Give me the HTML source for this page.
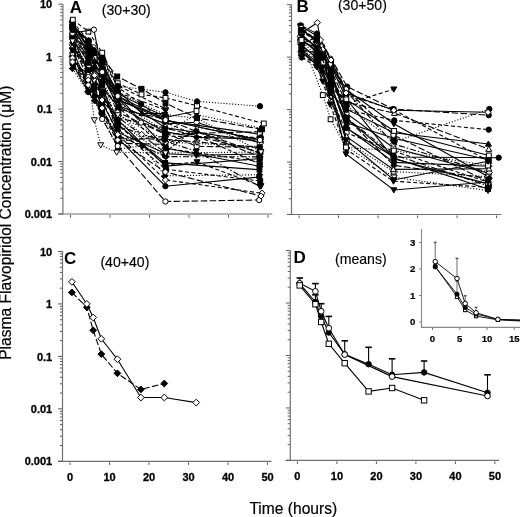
<!DOCTYPE html><html><head><meta charset="utf-8"><style>html,body{margin:0;padding:0;background:#fff;width:520px;height:517px;overflow:hidden}svg{display:block;filter:grayscale(1) blur(0.35px)}</style></head><body><svg width="520" height="517" viewBox="0 0 520 517">
<style>text{font-family:"Liberation Sans",sans-serif;fill:#000}.tl{font-weight:bold;font-size:11px;stroke:#000;stroke-width:0.3px}.pl{font-weight:bold;font-size:17px}.cap{font-size:14.1px;stroke:#000;stroke-width:0.15px}.ttl{stroke:#000;stroke-width:0.2px}.il{font-weight:bold;font-size:9.6px;stroke:#000;stroke-width:0.2px}</style>
<rect width="520" height="517" fill="#fff"/>
<line x1="62.9" y1="3.70" x2="62.9" y2="214.60" stroke="#707070" stroke-width="1.2"/>
<line x1="58.4" y1="214.0" x2="272.3" y2="214.0" stroke="#707070" stroke-width="1.2"/>
<line x1="58.40" y1="214.00" x2="62.4" y2="214.00" stroke="#5a5a5a" stroke-width="1"/>
<line x1="60.30" y1="198.21" x2="62.4" y2="198.21" stroke="#5a5a5a" stroke-width="1"/>
<line x1="60.30" y1="188.97" x2="62.4" y2="188.97" stroke="#5a5a5a" stroke-width="1"/>
<line x1="60.30" y1="182.42" x2="62.4" y2="182.42" stroke="#5a5a5a" stroke-width="1"/>
<line x1="60.30" y1="177.34" x2="62.4" y2="177.34" stroke="#5a5a5a" stroke-width="1"/>
<line x1="60.30" y1="173.19" x2="62.4" y2="173.19" stroke="#5a5a5a" stroke-width="1"/>
<line x1="60.30" y1="169.67" x2="62.4" y2="169.67" stroke="#5a5a5a" stroke-width="1"/>
<line x1="60.30" y1="166.63" x2="62.4" y2="166.63" stroke="#5a5a5a" stroke-width="1"/>
<line x1="60.30" y1="163.95" x2="62.4" y2="163.95" stroke="#5a5a5a" stroke-width="1"/>
<line x1="58.40" y1="161.55" x2="62.4" y2="161.55" stroke="#5a5a5a" stroke-width="1"/>
<line x1="60.30" y1="145.76" x2="62.4" y2="145.76" stroke="#5a5a5a" stroke-width="1"/>
<line x1="60.30" y1="136.52" x2="62.4" y2="136.52" stroke="#5a5a5a" stroke-width="1"/>
<line x1="60.30" y1="129.97" x2="62.4" y2="129.97" stroke="#5a5a5a" stroke-width="1"/>
<line x1="60.30" y1="124.89" x2="62.4" y2="124.89" stroke="#5a5a5a" stroke-width="1"/>
<line x1="60.30" y1="120.74" x2="62.4" y2="120.74" stroke="#5a5a5a" stroke-width="1"/>
<line x1="60.30" y1="117.22" x2="62.4" y2="117.22" stroke="#5a5a5a" stroke-width="1"/>
<line x1="60.30" y1="114.18" x2="62.4" y2="114.18" stroke="#5a5a5a" stroke-width="1"/>
<line x1="60.30" y1="111.50" x2="62.4" y2="111.50" stroke="#5a5a5a" stroke-width="1"/>
<line x1="58.40" y1="109.10" x2="62.4" y2="109.10" stroke="#5a5a5a" stroke-width="1"/>
<line x1="60.30" y1="93.31" x2="62.4" y2="93.31" stroke="#5a5a5a" stroke-width="1"/>
<line x1="60.30" y1="84.07" x2="62.4" y2="84.07" stroke="#5a5a5a" stroke-width="1"/>
<line x1="60.30" y1="77.52" x2="62.4" y2="77.52" stroke="#5a5a5a" stroke-width="1"/>
<line x1="60.30" y1="72.44" x2="62.4" y2="72.44" stroke="#5a5a5a" stroke-width="1"/>
<line x1="60.30" y1="68.29" x2="62.4" y2="68.29" stroke="#5a5a5a" stroke-width="1"/>
<line x1="60.30" y1="64.77" x2="62.4" y2="64.77" stroke="#5a5a5a" stroke-width="1"/>
<line x1="60.30" y1="61.73" x2="62.4" y2="61.73" stroke="#5a5a5a" stroke-width="1"/>
<line x1="60.30" y1="59.05" x2="62.4" y2="59.05" stroke="#5a5a5a" stroke-width="1"/>
<line x1="58.40" y1="56.65" x2="62.4" y2="56.65" stroke="#5a5a5a" stroke-width="1"/>
<line x1="60.30" y1="40.86" x2="62.4" y2="40.86" stroke="#5a5a5a" stroke-width="1"/>
<line x1="60.30" y1="31.62" x2="62.4" y2="31.62" stroke="#5a5a5a" stroke-width="1"/>
<line x1="60.30" y1="25.07" x2="62.4" y2="25.07" stroke="#5a5a5a" stroke-width="1"/>
<line x1="60.30" y1="19.99" x2="62.4" y2="19.99" stroke="#5a5a5a" stroke-width="1"/>
<line x1="60.30" y1="15.84" x2="62.4" y2="15.84" stroke="#5a5a5a" stroke-width="1"/>
<line x1="60.30" y1="12.32" x2="62.4" y2="12.32" stroke="#5a5a5a" stroke-width="1"/>
<line x1="60.30" y1="9.28" x2="62.4" y2="9.28" stroke="#5a5a5a" stroke-width="1"/>
<line x1="60.30" y1="6.60" x2="62.4" y2="6.60" stroke="#5a5a5a" stroke-width="1"/>
<line x1="58.40" y1="4.20" x2="62.4" y2="4.20" stroke="#5a5a5a" stroke-width="1"/>
<line x1="70.50" y1="215.0" x2="70.50" y2="217.6" stroke="#5a5a5a" stroke-width="1"/>
<line x1="110.00" y1="215.0" x2="110.00" y2="217.6" stroke="#5a5a5a" stroke-width="1"/>
<line x1="149.50" y1="215.0" x2="149.50" y2="217.6" stroke="#5a5a5a" stroke-width="1"/>
<line x1="189.00" y1="215.0" x2="189.00" y2="217.6" stroke="#5a5a5a" stroke-width="1"/>
<line x1="228.50" y1="215.0" x2="228.50" y2="217.6" stroke="#5a5a5a" stroke-width="1"/>
<line x1="268.00" y1="215.0" x2="268.00" y2="217.6" stroke="#5a5a5a" stroke-width="1"/>
<text x="52.2" y="218.10" class="tl" text-anchor="end">0.001</text>
<text x="52.2" y="165.65" class="tl" text-anchor="end">0.01</text>
<text x="52.2" y="113.20" class="tl" text-anchor="end">0.1</text>
<text x="52.2" y="60.75" class="tl" text-anchor="end">1</text>
<text x="52.2" y="8.30" class="tl" text-anchor="end">10</text>
<line x1="291.5" y1="4.20" x2="291.5" y2="215.10" stroke="#707070" stroke-width="1.2"/>
<line x1="287.0" y1="214.5" x2="501.3" y2="214.5" stroke="#707070" stroke-width="1.2"/>
<line x1="287.00" y1="214.50" x2="291.0" y2="214.50" stroke="#5a5a5a" stroke-width="1"/>
<line x1="288.90" y1="198.71" x2="291.0" y2="198.71" stroke="#5a5a5a" stroke-width="1"/>
<line x1="288.90" y1="189.47" x2="291.0" y2="189.47" stroke="#5a5a5a" stroke-width="1"/>
<line x1="288.90" y1="182.92" x2="291.0" y2="182.92" stroke="#5a5a5a" stroke-width="1"/>
<line x1="288.90" y1="177.84" x2="291.0" y2="177.84" stroke="#5a5a5a" stroke-width="1"/>
<line x1="288.90" y1="173.69" x2="291.0" y2="173.69" stroke="#5a5a5a" stroke-width="1"/>
<line x1="288.90" y1="170.17" x2="291.0" y2="170.17" stroke="#5a5a5a" stroke-width="1"/>
<line x1="288.90" y1="167.13" x2="291.0" y2="167.13" stroke="#5a5a5a" stroke-width="1"/>
<line x1="288.90" y1="164.45" x2="291.0" y2="164.45" stroke="#5a5a5a" stroke-width="1"/>
<line x1="287.00" y1="162.05" x2="291.0" y2="162.05" stroke="#5a5a5a" stroke-width="1"/>
<line x1="288.90" y1="146.26" x2="291.0" y2="146.26" stroke="#5a5a5a" stroke-width="1"/>
<line x1="288.90" y1="137.02" x2="291.0" y2="137.02" stroke="#5a5a5a" stroke-width="1"/>
<line x1="288.90" y1="130.47" x2="291.0" y2="130.47" stroke="#5a5a5a" stroke-width="1"/>
<line x1="288.90" y1="125.39" x2="291.0" y2="125.39" stroke="#5a5a5a" stroke-width="1"/>
<line x1="288.90" y1="121.24" x2="291.0" y2="121.24" stroke="#5a5a5a" stroke-width="1"/>
<line x1="288.90" y1="117.72" x2="291.0" y2="117.72" stroke="#5a5a5a" stroke-width="1"/>
<line x1="288.90" y1="114.68" x2="291.0" y2="114.68" stroke="#5a5a5a" stroke-width="1"/>
<line x1="288.90" y1="112.00" x2="291.0" y2="112.00" stroke="#5a5a5a" stroke-width="1"/>
<line x1="287.00" y1="109.60" x2="291.0" y2="109.60" stroke="#5a5a5a" stroke-width="1"/>
<line x1="288.90" y1="93.81" x2="291.0" y2="93.81" stroke="#5a5a5a" stroke-width="1"/>
<line x1="288.90" y1="84.57" x2="291.0" y2="84.57" stroke="#5a5a5a" stroke-width="1"/>
<line x1="288.90" y1="78.02" x2="291.0" y2="78.02" stroke="#5a5a5a" stroke-width="1"/>
<line x1="288.90" y1="72.94" x2="291.0" y2="72.94" stroke="#5a5a5a" stroke-width="1"/>
<line x1="288.90" y1="68.79" x2="291.0" y2="68.79" stroke="#5a5a5a" stroke-width="1"/>
<line x1="288.90" y1="65.27" x2="291.0" y2="65.27" stroke="#5a5a5a" stroke-width="1"/>
<line x1="288.90" y1="62.23" x2="291.0" y2="62.23" stroke="#5a5a5a" stroke-width="1"/>
<line x1="288.90" y1="59.55" x2="291.0" y2="59.55" stroke="#5a5a5a" stroke-width="1"/>
<line x1="287.00" y1="57.15" x2="291.0" y2="57.15" stroke="#5a5a5a" stroke-width="1"/>
<line x1="288.90" y1="41.36" x2="291.0" y2="41.36" stroke="#5a5a5a" stroke-width="1"/>
<line x1="288.90" y1="32.12" x2="291.0" y2="32.12" stroke="#5a5a5a" stroke-width="1"/>
<line x1="288.90" y1="25.57" x2="291.0" y2="25.57" stroke="#5a5a5a" stroke-width="1"/>
<line x1="288.90" y1="20.49" x2="291.0" y2="20.49" stroke="#5a5a5a" stroke-width="1"/>
<line x1="288.90" y1="16.34" x2="291.0" y2="16.34" stroke="#5a5a5a" stroke-width="1"/>
<line x1="288.90" y1="12.82" x2="291.0" y2="12.82" stroke="#5a5a5a" stroke-width="1"/>
<line x1="288.90" y1="9.78" x2="291.0" y2="9.78" stroke="#5a5a5a" stroke-width="1"/>
<line x1="288.90" y1="7.10" x2="291.0" y2="7.10" stroke="#5a5a5a" stroke-width="1"/>
<line x1="287.00" y1="4.70" x2="291.0" y2="4.70" stroke="#5a5a5a" stroke-width="1"/>
<line x1="299.10" y1="215.5" x2="299.10" y2="218.1" stroke="#5a5a5a" stroke-width="1"/>
<line x1="338.60" y1="215.5" x2="338.60" y2="218.1" stroke="#5a5a5a" stroke-width="1"/>
<line x1="378.10" y1="215.5" x2="378.10" y2="218.1" stroke="#5a5a5a" stroke-width="1"/>
<line x1="417.60" y1="215.5" x2="417.60" y2="218.1" stroke="#5a5a5a" stroke-width="1"/>
<line x1="457.10" y1="215.5" x2="457.10" y2="218.1" stroke="#5a5a5a" stroke-width="1"/>
<line x1="496.60" y1="215.5" x2="496.60" y2="218.1" stroke="#5a5a5a" stroke-width="1"/>
<line x1="62.5" y1="251.00" x2="62.5" y2="461.90" stroke="#707070" stroke-width="1.2"/>
<line x1="58.0" y1="461.3" x2="271.5" y2="461.3" stroke="#707070" stroke-width="1.2"/>
<line x1="58.00" y1="461.30" x2="62.0" y2="461.30" stroke="#5a5a5a" stroke-width="1"/>
<line x1="59.90" y1="445.51" x2="62.0" y2="445.51" stroke="#5a5a5a" stroke-width="1"/>
<line x1="59.90" y1="436.27" x2="62.0" y2="436.27" stroke="#5a5a5a" stroke-width="1"/>
<line x1="59.90" y1="429.72" x2="62.0" y2="429.72" stroke="#5a5a5a" stroke-width="1"/>
<line x1="59.90" y1="424.64" x2="62.0" y2="424.64" stroke="#5a5a5a" stroke-width="1"/>
<line x1="59.90" y1="420.49" x2="62.0" y2="420.49" stroke="#5a5a5a" stroke-width="1"/>
<line x1="59.90" y1="416.97" x2="62.0" y2="416.97" stroke="#5a5a5a" stroke-width="1"/>
<line x1="59.90" y1="413.93" x2="62.0" y2="413.93" stroke="#5a5a5a" stroke-width="1"/>
<line x1="59.90" y1="411.25" x2="62.0" y2="411.25" stroke="#5a5a5a" stroke-width="1"/>
<line x1="58.00" y1="408.85" x2="62.0" y2="408.85" stroke="#5a5a5a" stroke-width="1"/>
<line x1="59.90" y1="393.06" x2="62.0" y2="393.06" stroke="#5a5a5a" stroke-width="1"/>
<line x1="59.90" y1="383.82" x2="62.0" y2="383.82" stroke="#5a5a5a" stroke-width="1"/>
<line x1="59.90" y1="377.27" x2="62.0" y2="377.27" stroke="#5a5a5a" stroke-width="1"/>
<line x1="59.90" y1="372.19" x2="62.0" y2="372.19" stroke="#5a5a5a" stroke-width="1"/>
<line x1="59.90" y1="368.04" x2="62.0" y2="368.04" stroke="#5a5a5a" stroke-width="1"/>
<line x1="59.90" y1="364.52" x2="62.0" y2="364.52" stroke="#5a5a5a" stroke-width="1"/>
<line x1="59.90" y1="361.48" x2="62.0" y2="361.48" stroke="#5a5a5a" stroke-width="1"/>
<line x1="59.90" y1="358.80" x2="62.0" y2="358.80" stroke="#5a5a5a" stroke-width="1"/>
<line x1="58.00" y1="356.40" x2="62.0" y2="356.40" stroke="#5a5a5a" stroke-width="1"/>
<line x1="59.90" y1="340.61" x2="62.0" y2="340.61" stroke="#5a5a5a" stroke-width="1"/>
<line x1="59.90" y1="331.37" x2="62.0" y2="331.37" stroke="#5a5a5a" stroke-width="1"/>
<line x1="59.90" y1="324.82" x2="62.0" y2="324.82" stroke="#5a5a5a" stroke-width="1"/>
<line x1="59.90" y1="319.74" x2="62.0" y2="319.74" stroke="#5a5a5a" stroke-width="1"/>
<line x1="59.90" y1="315.59" x2="62.0" y2="315.59" stroke="#5a5a5a" stroke-width="1"/>
<line x1="59.90" y1="312.07" x2="62.0" y2="312.07" stroke="#5a5a5a" stroke-width="1"/>
<line x1="59.90" y1="309.03" x2="62.0" y2="309.03" stroke="#5a5a5a" stroke-width="1"/>
<line x1="59.90" y1="306.35" x2="62.0" y2="306.35" stroke="#5a5a5a" stroke-width="1"/>
<line x1="58.00" y1="303.95" x2="62.0" y2="303.95" stroke="#5a5a5a" stroke-width="1"/>
<line x1="59.90" y1="288.16" x2="62.0" y2="288.16" stroke="#5a5a5a" stroke-width="1"/>
<line x1="59.90" y1="278.92" x2="62.0" y2="278.92" stroke="#5a5a5a" stroke-width="1"/>
<line x1="59.90" y1="272.37" x2="62.0" y2="272.37" stroke="#5a5a5a" stroke-width="1"/>
<line x1="59.90" y1="267.29" x2="62.0" y2="267.29" stroke="#5a5a5a" stroke-width="1"/>
<line x1="59.90" y1="263.14" x2="62.0" y2="263.14" stroke="#5a5a5a" stroke-width="1"/>
<line x1="59.90" y1="259.62" x2="62.0" y2="259.62" stroke="#5a5a5a" stroke-width="1"/>
<line x1="59.90" y1="256.58" x2="62.0" y2="256.58" stroke="#5a5a5a" stroke-width="1"/>
<line x1="59.90" y1="253.90" x2="62.0" y2="253.90" stroke="#5a5a5a" stroke-width="1"/>
<line x1="58.00" y1="251.50" x2="62.0" y2="251.50" stroke="#5a5a5a" stroke-width="1"/>
<line x1="70.00" y1="462.3" x2="70.00" y2="464.90000000000003" stroke="#5a5a5a" stroke-width="1"/>
<text x="70.00" y="480.90" class="tl" text-anchor="middle">0</text>
<line x1="109.50" y1="462.3" x2="109.50" y2="464.90000000000003" stroke="#5a5a5a" stroke-width="1"/>
<text x="109.50" y="480.90" class="tl" text-anchor="middle">10</text>
<line x1="149.00" y1="462.3" x2="149.00" y2="464.90000000000003" stroke="#5a5a5a" stroke-width="1"/>
<text x="149.00" y="480.90" class="tl" text-anchor="middle">20</text>
<line x1="188.50" y1="462.3" x2="188.50" y2="464.90000000000003" stroke="#5a5a5a" stroke-width="1"/>
<text x="188.50" y="480.90" class="tl" text-anchor="middle">30</text>
<line x1="228.00" y1="462.3" x2="228.00" y2="464.90000000000003" stroke="#5a5a5a" stroke-width="1"/>
<text x="228.00" y="480.90" class="tl" text-anchor="middle">40</text>
<line x1="267.50" y1="462.3" x2="267.50" y2="464.90000000000003" stroke="#5a5a5a" stroke-width="1"/>
<text x="267.50" y="480.90" class="tl" text-anchor="middle">50</text>
<text x="52.2" y="465.40" class="tl" text-anchor="end">0.001</text>
<text x="52.2" y="412.95" class="tl" text-anchor="end">0.01</text>
<text x="52.2" y="360.50" class="tl" text-anchor="end">0.1</text>
<text x="52.2" y="308.05" class="tl" text-anchor="end">1</text>
<text x="52.2" y="255.60" class="tl" text-anchor="end">10</text>
<line x1="290.3" y1="250.10" x2="290.3" y2="461.00" stroke="#707070" stroke-width="1.2"/>
<line x1="285.8" y1="460.4" x2="499.2" y2="460.4" stroke="#707070" stroke-width="1.2"/>
<line x1="285.80" y1="460.40" x2="289.8" y2="460.40" stroke="#5a5a5a" stroke-width="1"/>
<line x1="287.70" y1="444.61" x2="289.8" y2="444.61" stroke="#5a5a5a" stroke-width="1"/>
<line x1="287.70" y1="435.37" x2="289.8" y2="435.37" stroke="#5a5a5a" stroke-width="1"/>
<line x1="287.70" y1="428.82" x2="289.8" y2="428.82" stroke="#5a5a5a" stroke-width="1"/>
<line x1="287.70" y1="423.74" x2="289.8" y2="423.74" stroke="#5a5a5a" stroke-width="1"/>
<line x1="287.70" y1="419.59" x2="289.8" y2="419.59" stroke="#5a5a5a" stroke-width="1"/>
<line x1="287.70" y1="416.07" x2="289.8" y2="416.07" stroke="#5a5a5a" stroke-width="1"/>
<line x1="287.70" y1="413.03" x2="289.8" y2="413.03" stroke="#5a5a5a" stroke-width="1"/>
<line x1="287.70" y1="410.35" x2="289.8" y2="410.35" stroke="#5a5a5a" stroke-width="1"/>
<line x1="285.80" y1="407.95" x2="289.8" y2="407.95" stroke="#5a5a5a" stroke-width="1"/>
<line x1="287.70" y1="392.16" x2="289.8" y2="392.16" stroke="#5a5a5a" stroke-width="1"/>
<line x1="287.70" y1="382.92" x2="289.8" y2="382.92" stroke="#5a5a5a" stroke-width="1"/>
<line x1="287.70" y1="376.37" x2="289.8" y2="376.37" stroke="#5a5a5a" stroke-width="1"/>
<line x1="287.70" y1="371.29" x2="289.8" y2="371.29" stroke="#5a5a5a" stroke-width="1"/>
<line x1="287.70" y1="367.14" x2="289.8" y2="367.14" stroke="#5a5a5a" stroke-width="1"/>
<line x1="287.70" y1="363.62" x2="289.8" y2="363.62" stroke="#5a5a5a" stroke-width="1"/>
<line x1="287.70" y1="360.58" x2="289.8" y2="360.58" stroke="#5a5a5a" stroke-width="1"/>
<line x1="287.70" y1="357.90" x2="289.8" y2="357.90" stroke="#5a5a5a" stroke-width="1"/>
<line x1="285.80" y1="355.50" x2="289.8" y2="355.50" stroke="#5a5a5a" stroke-width="1"/>
<line x1="287.70" y1="339.71" x2="289.8" y2="339.71" stroke="#5a5a5a" stroke-width="1"/>
<line x1="287.70" y1="330.47" x2="289.8" y2="330.47" stroke="#5a5a5a" stroke-width="1"/>
<line x1="287.70" y1="323.92" x2="289.8" y2="323.92" stroke="#5a5a5a" stroke-width="1"/>
<line x1="287.70" y1="318.84" x2="289.8" y2="318.84" stroke="#5a5a5a" stroke-width="1"/>
<line x1="287.70" y1="314.69" x2="289.8" y2="314.69" stroke="#5a5a5a" stroke-width="1"/>
<line x1="287.70" y1="311.17" x2="289.8" y2="311.17" stroke="#5a5a5a" stroke-width="1"/>
<line x1="287.70" y1="308.13" x2="289.8" y2="308.13" stroke="#5a5a5a" stroke-width="1"/>
<line x1="287.70" y1="305.45" x2="289.8" y2="305.45" stroke="#5a5a5a" stroke-width="1"/>
<line x1="285.80" y1="303.05" x2="289.8" y2="303.05" stroke="#5a5a5a" stroke-width="1"/>
<line x1="287.70" y1="287.26" x2="289.8" y2="287.26" stroke="#5a5a5a" stroke-width="1"/>
<line x1="287.70" y1="278.02" x2="289.8" y2="278.02" stroke="#5a5a5a" stroke-width="1"/>
<line x1="287.70" y1="271.47" x2="289.8" y2="271.47" stroke="#5a5a5a" stroke-width="1"/>
<line x1="287.70" y1="266.39" x2="289.8" y2="266.39" stroke="#5a5a5a" stroke-width="1"/>
<line x1="287.70" y1="262.24" x2="289.8" y2="262.24" stroke="#5a5a5a" stroke-width="1"/>
<line x1="287.70" y1="258.72" x2="289.8" y2="258.72" stroke="#5a5a5a" stroke-width="1"/>
<line x1="287.70" y1="255.68" x2="289.8" y2="255.68" stroke="#5a5a5a" stroke-width="1"/>
<line x1="287.70" y1="253.00" x2="289.8" y2="253.00" stroke="#5a5a5a" stroke-width="1"/>
<line x1="285.80" y1="250.60" x2="289.8" y2="250.60" stroke="#5a5a5a" stroke-width="1"/>
<line x1="297.40" y1="461.4" x2="297.40" y2="464.0" stroke="#5a5a5a" stroke-width="1"/>
<text x="297.40" y="480.00" class="tl" text-anchor="middle">0</text>
<line x1="336.90" y1="461.4" x2="336.90" y2="464.0" stroke="#5a5a5a" stroke-width="1"/>
<text x="336.90" y="480.00" class="tl" text-anchor="middle">10</text>
<line x1="376.40" y1="461.4" x2="376.40" y2="464.0" stroke="#5a5a5a" stroke-width="1"/>
<text x="376.40" y="480.00" class="tl" text-anchor="middle">20</text>
<line x1="415.90" y1="461.4" x2="415.90" y2="464.0" stroke="#5a5a5a" stroke-width="1"/>
<text x="415.90" y="480.00" class="tl" text-anchor="middle">30</text>
<line x1="455.40" y1="461.4" x2="455.40" y2="464.0" stroke="#5a5a5a" stroke-width="1"/>
<text x="455.40" y="480.00" class="tl" text-anchor="middle">40</text>
<line x1="494.90" y1="461.4" x2="494.90" y2="464.0" stroke="#5a5a5a" stroke-width="1"/>
<text x="494.90" y="480.00" class="tl" text-anchor="middle">50</text>
<text x="69.7" y="12.5" class="pl">A</text>
<text x="296.6" y="12.4" class="pl">B</text>
<text x="64" y="264" class="pl">C</text>
<text x="293.4" y="262.9" class="pl">D</text>
<text x="101.8" y="14.8" class="cap">(30+30)</text>
<text x="337.9" y="10.4" class="cap">(30+50)</text>
<text x="100.4" y="266.7" class="cap">(40+40)</text>
<text x="335" y="263.7" class="cap">(means)</text>
<text x="0" y="0" transform="translate(11.4,359.8) rotate(-90)" class="ttl" style="font-size:15.6px">Plasma Flavopiridol Concentration (μM)</text>
<text x="249.4" y="513.6" class="ttl" style="font-size:15.6px">Time (hours)</text>
<polyline points="71.90,292.40 86.80,307.30 93.20,330.30 101.30,354.10 117.40,373.30 140.90,389.40 164.30,383.50" fill="none" stroke="#000" stroke-width="1.1" stroke-dasharray="6.6 2.4"/>
<polygon points="71.90,289.01 75.29,292.40 71.90,295.79 68.51,292.40" fill="#000" stroke="#000" stroke-width="1"/>
<polygon points="86.80,303.91 90.19,307.30 86.80,310.69 83.41,307.30" fill="#000" stroke="#000" stroke-width="1"/>
<polygon points="93.20,326.91 96.59,330.30 93.20,333.69 89.81,330.30" fill="#000" stroke="#000" stroke-width="1"/>
<polygon points="101.30,350.71 104.69,354.10 101.30,357.49 97.91,354.10" fill="#000" stroke="#000" stroke-width="1"/>
<polygon points="117.40,369.91 120.79,373.30 117.40,376.69 114.01,373.30" fill="#000" stroke="#000" stroke-width="1"/>
<polygon points="140.90,386.01 144.29,389.40 140.90,392.79 137.51,389.40" fill="#000" stroke="#000" stroke-width="1"/>
<polygon points="164.30,380.11 167.69,383.50 164.30,386.89 160.91,383.50" fill="#000" stroke="#000" stroke-width="1"/>
<polyline points="71.90,281.80 86.80,303.90 93.20,317.50 101.30,338.80 117.40,359.20 140.90,397.50 164.30,397.50 196.20,402.60" fill="none" stroke="#000" stroke-width="1.1" />
<polygon points="71.90,278.41 75.29,281.80 71.90,285.19 68.51,281.80" fill="#fff" stroke="#000" stroke-width="1"/>
<polygon points="86.80,300.51 90.19,303.90 86.80,307.29 83.41,303.90" fill="#fff" stroke="#000" stroke-width="1"/>
<polygon points="93.20,314.11 96.59,317.50 93.20,320.89 89.81,317.50" fill="#fff" stroke="#000" stroke-width="1"/>
<polygon points="101.30,335.41 104.69,338.80 101.30,342.19 97.91,338.80" fill="#fff" stroke="#000" stroke-width="1"/>
<polygon points="117.40,355.81 120.79,359.20 117.40,362.59 114.01,359.20" fill="#fff" stroke="#000" stroke-width="1"/>
<polygon points="140.90,394.11 144.29,397.50 140.90,400.89 137.51,397.50" fill="#fff" stroke="#000" stroke-width="1"/>
<polygon points="164.30,394.11 167.69,397.50 164.30,400.89 160.91,397.50" fill="#fff" stroke="#000" stroke-width="1"/>
<polygon points="196.20,399.21 199.59,402.60 196.20,405.99 192.81,402.60" fill="#fff" stroke="#000" stroke-width="1"/>
<line x1="299.80" y1="278.00" x2="299.80" y2="284.50" stroke="#000" stroke-width="1.1"/>
<line x1="296.55" y1="278.00" x2="303.05" y2="278.00" stroke="#000" stroke-width="1.6"/>
<line x1="315.40" y1="283.60" x2="315.40" y2="291.30" stroke="#000" stroke-width="1.1"/>
<line x1="312.15" y1="283.60" x2="318.65" y2="283.60" stroke="#000" stroke-width="1.6"/>
<line x1="315.40" y1="294.80" x2="315.40" y2="302.00" stroke="#000" stroke-width="1.1"/>
<line x1="312.15" y1="294.80" x2="318.65" y2="294.80" stroke="#000" stroke-width="1.6"/>
<line x1="321.20" y1="303.70" x2="321.20" y2="311.00" stroke="#000" stroke-width="1.1"/>
<line x1="317.95" y1="303.70" x2="324.45" y2="303.70" stroke="#000" stroke-width="1.6"/>
<line x1="328.80" y1="316.40" x2="328.80" y2="328.00" stroke="#000" stroke-width="1.1"/>
<line x1="325.55" y1="316.40" x2="332.05" y2="316.40" stroke="#000" stroke-width="1.6"/>
<line x1="344.70" y1="340.80" x2="344.70" y2="354.50" stroke="#000" stroke-width="1.1"/>
<line x1="341.45" y1="340.80" x2="347.95" y2="340.80" stroke="#000" stroke-width="1.6"/>
<line x1="368.60" y1="347.30" x2="368.60" y2="364.30" stroke="#000" stroke-width="1.1"/>
<line x1="365.35" y1="347.30" x2="371.85" y2="347.30" stroke="#000" stroke-width="1.6"/>
<line x1="392.10" y1="358.80" x2="392.10" y2="376.00" stroke="#000" stroke-width="1.1"/>
<line x1="388.85" y1="358.80" x2="395.35" y2="358.80" stroke="#000" stroke-width="1.6"/>
<line x1="424.10" y1="361.00" x2="424.10" y2="372.50" stroke="#000" stroke-width="1.1"/>
<line x1="420.85" y1="361.00" x2="427.35" y2="361.00" stroke="#000" stroke-width="1.6"/>
<line x1="487.50" y1="374.80" x2="487.50" y2="393.00" stroke="#000" stroke-width="1.1"/>
<line x1="484.25" y1="374.80" x2="490.75" y2="374.80" stroke="#000" stroke-width="1.6"/>
<polyline points="299.70,283.60 315.40,302.00 321.20,316.20 328.80,332.50 344.70,354.30 368.60,364.20 392.10,374.80 424.10,372.40 487.50,392.80" fill="none" stroke="#000" stroke-width="1.1" />
<circle cx="299.70" cy="283.60" r="2.74" fill="#000" stroke="#000" stroke-width="1"/>
<circle cx="315.40" cy="302.00" r="2.74" fill="#000" stroke="#000" stroke-width="1"/>
<circle cx="321.20" cy="316.20" r="2.74" fill="#000" stroke="#000" stroke-width="1"/>
<circle cx="328.80" cy="332.50" r="2.74" fill="#000" stroke="#000" stroke-width="1"/>
<circle cx="344.70" cy="354.30" r="2.74" fill="#000" stroke="#000" stroke-width="1"/>
<circle cx="368.60" cy="364.20" r="2.74" fill="#000" stroke="#000" stroke-width="1"/>
<circle cx="392.10" cy="374.80" r="2.74" fill="#000" stroke="#000" stroke-width="1"/>
<circle cx="424.10" cy="372.40" r="2.74" fill="#000" stroke="#000" stroke-width="1"/>
<circle cx="487.50" cy="392.80" r="2.74" fill="#000" stroke="#000" stroke-width="1"/>
<polyline points="299.70,283.20 315.40,291.30 321.20,311.30 328.80,328.20 344.70,354.60 392.10,376.60 487.50,396.00" fill="none" stroke="#000" stroke-width="1.1" />
<circle cx="299.70" cy="283.20" r="2.84" fill="#fff" stroke="#000" stroke-width="1"/>
<circle cx="315.40" cy="291.30" r="2.84" fill="#fff" stroke="#000" stroke-width="1"/>
<circle cx="321.20" cy="311.30" r="2.84" fill="#fff" stroke="#000" stroke-width="1"/>
<circle cx="328.80" cy="328.20" r="2.84" fill="#fff" stroke="#000" stroke-width="1"/>
<circle cx="344.70" cy="354.60" r="2.84" fill="#fff" stroke="#000" stroke-width="1"/>
<circle cx="392.10" cy="376.60" r="2.84" fill="#fff" stroke="#000" stroke-width="1"/>
<circle cx="487.50" cy="396.00" r="2.84" fill="#fff" stroke="#000" stroke-width="1"/>
<polyline points="299.70,285.40 315.40,304.20 321.20,322.00 328.80,343.80 344.70,363.20 368.60,391.40 392.10,388.00 424.10,400.30" fill="none" stroke="#000" stroke-width="1.1" />
<rect x="297.00" y="282.70" width="5.40" height="5.40" fill="#fff" stroke="#000" stroke-width="1"/>
<rect x="312.70" y="301.50" width="5.40" height="5.40" fill="#fff" stroke="#000" stroke-width="1"/>
<rect x="318.50" y="319.30" width="5.40" height="5.40" fill="#fff" stroke="#000" stroke-width="1"/>
<rect x="326.10" y="341.10" width="5.40" height="5.40" fill="#fff" stroke="#000" stroke-width="1"/>
<rect x="342.00" y="360.50" width="5.40" height="5.40" fill="#fff" stroke="#000" stroke-width="1"/>
<rect x="365.90" y="388.70" width="5.40" height="5.40" fill="#fff" stroke="#000" stroke-width="1"/>
<rect x="389.40" y="385.30" width="5.40" height="5.40" fill="#fff" stroke="#000" stroke-width="1"/>
<rect x="421.40" y="397.60" width="5.40" height="5.40" fill="#fff" stroke="#000" stroke-width="1"/>
<line x1="421.5" y1="229" x2="421.5" y2="328" stroke="#888" stroke-width="1.1"/>
<line x1="420.9" y1="327.4" x2="520" y2="327.4" stroke="#888" stroke-width="1.1"/>
<line x1="419.3" y1="322.00" x2="421" y2="322.00" stroke="#5a5a5a" stroke-width="0.9"/>
<text x="412.6" y="325.20" class="il" text-anchor="middle">0</text>
<line x1="419.3" y1="295.50" x2="421" y2="295.50" stroke="#5a5a5a" stroke-width="0.9"/>
<text x="412.6" y="298.70" class="il" text-anchor="middle">1</text>
<line x1="419.3" y1="269.00" x2="421" y2="269.00" stroke="#5a5a5a" stroke-width="0.9"/>
<text x="412.6" y="272.20" class="il" text-anchor="middle">2</text>
<line x1="419.3" y1="242.50" x2="421" y2="242.50" stroke="#5a5a5a" stroke-width="0.9"/>
<text x="412.6" y="245.70" class="il" text-anchor="middle">3</text>
<line x1="432.50" y1="328" x2="432.50" y2="329.8" stroke="#5a5a5a" stroke-width="0.9"/>
<text x="432.50" y="342.3" class="il" text-anchor="middle">0</text>
<line x1="459.75" y1="328" x2="459.75" y2="329.8" stroke="#5a5a5a" stroke-width="0.9"/>
<text x="459.75" y="342.3" class="il" text-anchor="middle">5</text>
<line x1="487.00" y1="328" x2="487.00" y2="329.8" stroke="#5a5a5a" stroke-width="0.9"/>
<text x="487.00" y="342.3" class="il" text-anchor="middle">10</text>
<line x1="514.25" y1="328" x2="514.25" y2="329.8" stroke="#5a5a5a" stroke-width="0.9"/>
<text x="514.25" y="342.3" class="il" text-anchor="middle">15</text>
<line x1="435.20" y1="242.40" x2="435.20" y2="259.00" stroke="#666" stroke-width="0.95"/>
<line x1="433.80" y1="242.40" x2="436.60" y2="242.40" stroke="#555" stroke-width="1.5"/>
<line x1="457.00" y1="258.40" x2="457.00" y2="276.00" stroke="#666" stroke-width="0.95"/>
<line x1="455.60" y1="258.40" x2="458.40" y2="258.40" stroke="#555" stroke-width="1.5"/>
<line x1="457.00" y1="281.00" x2="457.00" y2="292.00" stroke="#666" stroke-width="0.95"/>
<line x1="455.60" y1="281.00" x2="458.40" y2="281.00" stroke="#555" stroke-width="1.5"/>
<line x1="465.20" y1="295.80" x2="465.20" y2="301.00" stroke="#666" stroke-width="0.95"/>
<line x1="463.80" y1="295.80" x2="466.60" y2="295.80" stroke="#555" stroke-width="1.5"/>
<line x1="476.10" y1="307.40" x2="476.10" y2="311.00" stroke="#666" stroke-width="0.95"/>
<line x1="474.70" y1="307.40" x2="477.50" y2="307.40" stroke="#555" stroke-width="1.5"/>
<svg x="0" y="0" width="520" height="517" overflow="hidden">
<polyline points="435.23,266.35 457.02,296.82 465.20,310.07 476.10,316.17 497.90,319.88 530.60,321.47 563.30,321.47 606.90,321.74" fill="none" stroke="#000" stroke-width="0.9" />
<rect x="433.61" y="264.73" width="3.24" height="3.24" fill="#fff" stroke="#000" stroke-width="1"/>
<rect x="455.40" y="295.20" width="3.24" height="3.24" fill="#fff" stroke="#000" stroke-width="1"/>
<rect x="463.58" y="308.45" width="3.24" height="3.24" fill="#fff" stroke="#000" stroke-width="1"/>
<rect x="474.48" y="314.55" width="3.24" height="3.24" fill="#fff" stroke="#000" stroke-width="1"/>
<rect x="496.28" y="318.26" width="3.24" height="3.24" fill="#fff" stroke="#000" stroke-width="1"/>
<rect x="528.98" y="319.85" width="3.24" height="3.24" fill="#fff" stroke="#000" stroke-width="1"/>
<rect x="561.68" y="319.85" width="3.24" height="3.24" fill="#fff" stroke="#000" stroke-width="1"/>
<rect x="605.28" y="320.12" width="3.24" height="3.24" fill="#fff" stroke="#000" stroke-width="1"/>
<polyline points="435.23,266.88 457.02,294.18 465.20,307.43 476.10,314.05 497.90,319.35 530.60,320.94 563.30,321.20" fill="none" stroke="#000" stroke-width="0.9" />
<circle cx="435.23" cy="266.88" r="2.06" fill="#000" stroke="#000" stroke-width="1"/>
<circle cx="457.02" cy="294.18" r="2.06" fill="#000" stroke="#000" stroke-width="1"/>
<circle cx="465.20" cy="307.43" r="2.06" fill="#000" stroke="#000" stroke-width="1"/>
<circle cx="476.10" cy="314.05" r="2.06" fill="#000" stroke="#000" stroke-width="1"/>
<circle cx="497.90" cy="319.35" r="2.06" fill="#000" stroke="#000" stroke-width="1"/>
<circle cx="530.60" cy="320.94" r="2.06" fill="#000" stroke="#000" stroke-width="1"/>
<circle cx="563.30" cy="321.20" r="2.06" fill="#000" stroke="#000" stroke-width="1"/>
<polyline points="435.23,261.58 457.02,278.54 465.20,303.45 476.10,312.73 497.90,319.35 563.30,321.20" fill="none" stroke="#000" stroke-width="0.9" />
<circle cx="435.23" cy="261.58" r="2.25" fill="#fff" stroke="#000" stroke-width="1"/>
<circle cx="457.02" cy="278.54" r="2.25" fill="#fff" stroke="#000" stroke-width="1"/>
<circle cx="465.20" cy="303.45" r="2.25" fill="#fff" stroke="#000" stroke-width="1"/>
<circle cx="476.10" cy="312.73" r="2.25" fill="#fff" stroke="#000" stroke-width="1"/>
<circle cx="497.90" cy="319.35" r="2.25" fill="#fff" stroke="#000" stroke-width="1"/>
<circle cx="563.30" cy="321.20" r="2.25" fill="#fff" stroke="#000" stroke-width="1"/>
</svg>
<polyline points="73.00,24.82 88.86,47.68 93.71,54.03 101.68,69.35 117.98,95.94 165.24,127.69 260.66,141.77" fill="none" stroke="#000" stroke-width="1.1" />
<circle cx="73.00" cy="24.82" r="2.65" fill="#000" stroke="#000" stroke-width="1"/>
<circle cx="88.86" cy="47.68" r="2.65" fill="#000" stroke="#000" stroke-width="1"/>
<circle cx="93.71" cy="54.03" r="2.65" fill="#000" stroke="#000" stroke-width="1"/>
<circle cx="101.68" cy="69.35" r="2.65" fill="#000" stroke="#000" stroke-width="1"/>
<circle cx="117.98" cy="95.94" r="2.65" fill="#000" stroke="#000" stroke-width="1"/>
<circle cx="165.24" cy="127.69" r="2.65" fill="#000" stroke="#000" stroke-width="1"/>
<circle cx="260.66" cy="141.77" r="2.65" fill="#000" stroke="#000" stroke-width="1"/>
<polyline points="73.19,44.55 88.21,80.03 94.03,89.44 102.04,103.88 118.51,112.65 164.90,134.05 260.19,131.73" fill="none" stroke="#000" stroke-width="1.1" stroke-dasharray="6.6 2.4"/>
<rect x="70.76" y="42.12" width="4.86" height="4.86" fill="#000" stroke="#000" stroke-width="1"/>
<rect x="85.78" y="77.60" width="4.86" height="4.86" fill="#000" stroke="#000" stroke-width="1"/>
<rect x="91.60" y="87.01" width="4.86" height="4.86" fill="#000" stroke="#000" stroke-width="1"/>
<rect x="99.61" y="101.45" width="4.86" height="4.86" fill="#000" stroke="#000" stroke-width="1"/>
<rect x="116.08" y="110.22" width="4.86" height="4.86" fill="#000" stroke="#000" stroke-width="1"/>
<rect x="162.47" y="131.62" width="4.86" height="4.86" fill="#000" stroke="#000" stroke-width="1"/>
<rect x="257.76" y="129.30" width="4.86" height="4.86" fill="#000" stroke="#000" stroke-width="1"/>
<polyline points="72.12,56.33 88.37,86.46 101.63,109.02 117.94,135.38 165.93,156.65 259.42,156.84" fill="none" stroke="#000" stroke-width="1.1" stroke-dasharray="6 2 1.5 2"/>
<polygon points="72.12,53.22 75.22,56.33 72.12,59.43 69.01,56.33" fill="#000" stroke="#000" stroke-width="1"/>
<polygon points="88.37,83.35 91.48,86.46 88.37,89.56 85.27,86.46" fill="#000" stroke="#000" stroke-width="1"/>
<polygon points="101.63,105.92 104.74,109.02 101.63,112.13 98.53,109.02" fill="#000" stroke="#000" stroke-width="1"/>
<polygon points="117.94,132.28 121.05,135.38 117.94,138.49 114.84,135.38" fill="#000" stroke="#000" stroke-width="1"/>
<polygon points="165.93,153.54 169.03,156.65 165.93,159.75 162.82,156.65" fill="#000" stroke="#000" stroke-width="1"/>
<polygon points="259.42,153.74 262.53,156.84 259.42,159.95 256.32,156.84" fill="#000" stroke="#000" stroke-width="1"/>
<polyline points="73.10,30.50 102.36,69.00 118.04,92.64 164.80,114.59 196.96,118.23 260.72,151.56" fill="none" stroke="#000" stroke-width="1.1" stroke-dasharray="1.1 1.8"/>
<polygon points="70.13,28.27 76.07,28.27 73.10,33.47" fill="#000" stroke="#000" stroke-width="1"/>
<polygon points="99.39,66.77 105.33,66.77 102.36,71.97" fill="#000" stroke="#000" stroke-width="1"/>
<polygon points="115.07,90.42 121.01,90.42 118.04,95.61" fill="#000" stroke="#000" stroke-width="1"/>
<polygon points="161.83,112.37 167.77,112.37 164.80,117.56" fill="#000" stroke="#000" stroke-width="1"/>
<polygon points="193.99,116.01 199.93,116.01 196.96,121.20" fill="#000" stroke="#000" stroke-width="1"/>
<polygon points="257.75,149.33 263.69,149.33 260.72,154.53" fill="#000" stroke="#000" stroke-width="1"/>
<polyline points="72.22,24.97 88.75,40.49 93.59,47.37 102.69,58.20 117.86,85.71 165.50,108.71" fill="none" stroke="#000" stroke-width="1.1" stroke-dasharray="4 2.5"/>
<circle cx="72.22" cy="24.97" r="2.65" fill="#fff" stroke="#000" stroke-width="1"/>
<circle cx="88.75" cy="40.49" r="2.65" fill="#fff" stroke="#000" stroke-width="1"/>
<circle cx="93.59" cy="47.37" r="2.65" fill="#fff" stroke="#000" stroke-width="1"/>
<circle cx="102.69" cy="58.20" r="2.65" fill="#fff" stroke="#000" stroke-width="1"/>
<circle cx="117.86" cy="85.71" r="2.65" fill="#fff" stroke="#000" stroke-width="1"/>
<circle cx="165.50" cy="108.71" r="2.65" fill="#fff" stroke="#000" stroke-width="1"/>
<polyline points="72.43,36.94 88.18,56.35 94.19,66.00 102.46,75.57 118.46,102.64 165.87,131.25 196.61,114.71 260.67,128.11" fill="none" stroke="#000" stroke-width="1.1" stroke-dasharray="1.1 1.8"/>
<polygon points="69.46,39.17 75.40,39.17 72.43,33.97" fill="#000" stroke="#000" stroke-width="1"/>
<polygon points="85.21,58.57 91.15,58.57 88.18,53.38" fill="#000" stroke="#000" stroke-width="1"/>
<polygon points="91.22,68.23 97.16,68.23 94.19,63.03" fill="#000" stroke="#000" stroke-width="1"/>
<polygon points="99.49,77.79 105.43,77.79 102.46,72.60" fill="#000" stroke="#000" stroke-width="1"/>
<polygon points="115.49,104.87 121.43,104.87 118.46,99.67" fill="#000" stroke="#000" stroke-width="1"/>
<polygon points="162.90,133.48 168.84,133.48 165.87,128.28" fill="#000" stroke="#000" stroke-width="1"/>
<polygon points="193.64,116.94 199.58,116.94 196.61,111.74" fill="#000" stroke="#000" stroke-width="1"/>
<polygon points="257.70,130.33 263.64,130.33 260.67,125.14" fill="#000" stroke="#000" stroke-width="1"/>
<polyline points="73.12,48.41 88.76,66.18 101.61,84.14 117.57,129.10 165.99,169.32 260.24,181.09" fill="none" stroke="#000" stroke-width="1.1" stroke-dasharray="4 2.5"/>
<rect x="70.69" y="45.98" width="4.86" height="4.86" fill="#000" stroke="#000" stroke-width="1"/>
<rect x="86.33" y="63.75" width="4.86" height="4.86" fill="#000" stroke="#000" stroke-width="1"/>
<rect x="99.18" y="81.71" width="4.86" height="4.86" fill="#000" stroke="#000" stroke-width="1"/>
<rect x="115.14" y="126.67" width="4.86" height="4.86" fill="#000" stroke="#000" stroke-width="1"/>
<rect x="163.56" y="166.89" width="4.86" height="4.86" fill="#000" stroke="#000" stroke-width="1"/>
<rect x="257.81" y="178.66" width="4.86" height="4.86" fill="#000" stroke="#000" stroke-width="1"/>
<polyline points="72.96,60.62 88.75,75.86 102.73,90.36 117.36,118.05 164.85,127.83 259.83,151.98" fill="none" stroke="#000" stroke-width="1.1" stroke-dasharray="6.6 2.4"/>
<circle cx="72.96" cy="60.62" r="2.65" fill="#000" stroke="#000" stroke-width="1"/>
<circle cx="88.75" cy="75.86" r="2.65" fill="#000" stroke="#000" stroke-width="1"/>
<circle cx="102.73" cy="90.36" r="2.65" fill="#000" stroke="#000" stroke-width="1"/>
<circle cx="117.36" cy="118.05" r="2.65" fill="#000" stroke="#000" stroke-width="1"/>
<circle cx="164.85" cy="127.83" r="2.65" fill="#000" stroke="#000" stroke-width="1"/>
<circle cx="259.83" cy="151.98" r="2.65" fill="#000" stroke="#000" stroke-width="1"/>
<polyline points="72.87,25.48 88.27,46.60 102.42,62.49 117.60,93.62 165.99,117.22 196.49,111.02" fill="none" stroke="#000" stroke-width="1.1" />
<rect x="70.44" y="23.05" width="4.86" height="4.86" fill="#fff" stroke="#000" stroke-width="1"/>
<rect x="85.84" y="44.17" width="4.86" height="4.86" fill="#fff" stroke="#000" stroke-width="1"/>
<rect x="99.99" y="60.06" width="4.86" height="4.86" fill="#fff" stroke="#000" stroke-width="1"/>
<rect x="115.17" y="91.19" width="4.86" height="4.86" fill="#fff" stroke="#000" stroke-width="1"/>
<rect x="163.56" y="114.79" width="4.86" height="4.86" fill="#fff" stroke="#000" stroke-width="1"/>
<rect x="194.06" y="108.59" width="4.86" height="4.86" fill="#fff" stroke="#000" stroke-width="1"/>
<polyline points="72.60,25.09 88.42,41.92 94.60,51.73 101.59,62.93 118.20,96.29 165.27,147.95 259.86,166.40" fill="none" stroke="#000" stroke-width="1.1" />
<polygon points="72.60,21.99 75.70,25.09 72.60,28.20 69.49,25.09" fill="#000" stroke="#000" stroke-width="1"/>
<polygon points="88.42,38.82 91.52,41.92 88.42,45.03 85.31,41.92" fill="#000" stroke="#000" stroke-width="1"/>
<polygon points="94.60,48.62 97.71,51.73 94.60,54.83 91.50,51.73" fill="#000" stroke="#000" stroke-width="1"/>
<polygon points="101.59,59.82 104.69,62.93 101.59,66.03 98.48,62.93" fill="#000" stroke="#000" stroke-width="1"/>
<polygon points="118.20,93.18 121.31,96.29 118.20,99.39 115.10,96.29" fill="#000" stroke="#000" stroke-width="1"/>
<polygon points="165.27,144.85 168.38,147.95 165.27,151.06 162.17,147.95" fill="#000" stroke="#000" stroke-width="1"/>
<polygon points="259.86,163.30 262.97,166.40 259.86,169.51 256.76,166.40" fill="#000" stroke="#000" stroke-width="1"/>
<polyline points="73.30,51.90 87.63,84.04 102.58,103.18 117.79,132.14 165.94,153.70 196.33,155.29 260.23,153.94" fill="none" stroke="#000" stroke-width="1.1" />
<polygon points="70.33,49.67 76.27,49.67 73.30,54.87" fill="#000" stroke="#000" stroke-width="1"/>
<polygon points="84.66,81.81 90.60,81.81 87.63,87.01" fill="#000" stroke="#000" stroke-width="1"/>
<polygon points="99.61,100.96 105.55,100.96 102.58,106.15" fill="#000" stroke="#000" stroke-width="1"/>
<polygon points="114.82,129.91 120.76,129.91 117.79,135.11" fill="#000" stroke="#000" stroke-width="1"/>
<polygon points="162.97,151.47 168.91,151.47 165.94,156.67" fill="#000" stroke="#000" stroke-width="1"/>
<polygon points="193.36,153.06 199.30,153.06 196.33,158.26" fill="#000" stroke="#000" stroke-width="1"/>
<polygon points="257.26,151.72 263.20,151.72 260.23,156.91" fill="#000" stroke="#000" stroke-width="1"/>
<polyline points="72.19,44.78 87.96,70.02 94.24,71.16 102.79,88.83 117.27,105.28 165.51,123.84 196.67,122.30 260.20,143.22" fill="none" stroke="#000" stroke-width="1.1" />
<polygon points="72.19,41.68 75.29,44.78 72.19,47.89 69.08,44.78" fill="#fff" stroke="#000" stroke-width="1"/>
<polygon points="87.96,66.91 91.07,70.02 87.96,73.12 84.86,70.02" fill="#fff" stroke="#000" stroke-width="1"/>
<polygon points="94.24,68.06 97.34,71.16 94.24,74.27 91.13,71.16" fill="#fff" stroke="#000" stroke-width="1"/>
<polygon points="102.79,85.72 105.89,88.83 102.79,91.93 99.68,88.83" fill="#fff" stroke="#000" stroke-width="1"/>
<polygon points="117.27,102.17 120.38,105.28 117.27,108.38 114.17,105.28" fill="#fff" stroke="#000" stroke-width="1"/>
<polygon points="165.51,120.74 168.61,123.84 165.51,126.95 162.40,123.84" fill="#fff" stroke="#000" stroke-width="1"/>
<polygon points="196.67,119.20 199.78,122.30 196.67,125.41 193.57,122.30" fill="#fff" stroke="#000" stroke-width="1"/>
<polygon points="260.20,140.12 263.31,143.22 260.20,146.33 257.10,143.22" fill="#fff" stroke="#000" stroke-width="1"/>
<polyline points="73.13,64.11 88.68,88.93 101.97,107.81 118.45,143.22 165.37,144.44 196.48,131.27 260.43,153.41" fill="none" stroke="#000" stroke-width="1.1" stroke-dasharray="6.6 2.4"/>
<circle cx="73.13" cy="64.11" r="2.65" fill="#000" stroke="#000" stroke-width="1"/>
<circle cx="88.68" cy="88.93" r="2.65" fill="#000" stroke="#000" stroke-width="1"/>
<circle cx="101.97" cy="107.81" r="2.65" fill="#000" stroke="#000" stroke-width="1"/>
<circle cx="118.45" cy="143.22" r="2.65" fill="#000" stroke="#000" stroke-width="1"/>
<circle cx="165.37" cy="144.44" r="2.65" fill="#000" stroke="#000" stroke-width="1"/>
<circle cx="196.48" cy="131.27" r="2.65" fill="#000" stroke="#000" stroke-width="1"/>
<circle cx="260.43" cy="153.41" r="2.65" fill="#000" stroke="#000" stroke-width="1"/>
<polyline points="72.82,55.83 87.62,79.47 101.42,100.63 118.34,117.45 165.08,152.58 197.13,127.13 260.24,139.22" fill="none" stroke="#000" stroke-width="1.1" stroke-dasharray="6 2 1.5 2"/>
<polygon points="69.85,53.61 75.79,53.61 72.82,58.80" fill="#fff" stroke="#000" stroke-width="1"/>
<polygon points="84.65,77.25 90.59,77.25 87.62,82.44" fill="#fff" stroke="#000" stroke-width="1"/>
<polygon points="98.45,98.40 104.39,98.40 101.42,103.60" fill="#fff" stroke="#000" stroke-width="1"/>
<polygon points="115.37,115.22 121.31,115.22 118.34,120.42" fill="#fff" stroke="#000" stroke-width="1"/>
<polygon points="162.11,150.35 168.05,150.35 165.08,155.55" fill="#fff" stroke="#000" stroke-width="1"/>
<polygon points="194.16,124.90 200.10,124.90 197.13,130.10" fill="#fff" stroke="#000" stroke-width="1"/>
<polygon points="257.27,136.99 263.21,136.99 260.24,142.19" fill="#fff" stroke="#000" stroke-width="1"/>
<polyline points="72.33,34.01 88.02,62.08 101.45,79.21 117.27,120.38 164.91,155.73" fill="none" stroke="#000" stroke-width="1.1" stroke-dasharray="1.1 1.8"/>
<circle cx="72.33" cy="34.01" r="2.65" fill="#000" stroke="#000" stroke-width="1"/>
<circle cx="88.02" cy="62.08" r="2.65" fill="#000" stroke="#000" stroke-width="1"/>
<circle cx="101.45" cy="79.21" r="2.65" fill="#000" stroke="#000" stroke-width="1"/>
<circle cx="117.27" cy="120.38" r="2.65" fill="#000" stroke="#000" stroke-width="1"/>
<circle cx="164.91" cy="155.73" r="2.65" fill="#000" stroke="#000" stroke-width="1"/>
<polyline points="72.87,33.44 88.27,62.41 101.69,84.92 118.52,107.56 165.84,148.39 259.64,161.74" fill="none" stroke="#000" stroke-width="1.1" stroke-dasharray="4 2.5"/>
<rect x="70.44" y="31.01" width="4.86" height="4.86" fill="#000" stroke="#000" stroke-width="1"/>
<rect x="85.84" y="59.98" width="4.86" height="4.86" fill="#000" stroke="#000" stroke-width="1"/>
<rect x="99.26" y="82.49" width="4.86" height="4.86" fill="#000" stroke="#000" stroke-width="1"/>
<rect x="116.09" y="105.13" width="4.86" height="4.86" fill="#000" stroke="#000" stroke-width="1"/>
<rect x="163.41" y="145.96" width="4.86" height="4.86" fill="#000" stroke="#000" stroke-width="1"/>
<rect x="257.21" y="159.31" width="4.86" height="4.86" fill="#000" stroke="#000" stroke-width="1"/>
<polyline points="72.38,68.57 87.77,91.72 94.69,100.79 102.52,117.57 118.07,148.98 142.22,145.86 164.93,175.81 259.60,174.76" fill="none" stroke="#000" stroke-width="1.1" stroke-dasharray="1.1 1.8"/>
<polygon points="72.38,65.47 75.49,68.57 72.38,71.68 69.28,68.57" fill="#000" stroke="#000" stroke-width="1"/>
<polygon points="87.77,88.62 90.87,91.72 87.77,94.83 84.66,91.72" fill="#000" stroke="#000" stroke-width="1"/>
<polygon points="94.69,97.69 97.80,100.79 94.69,103.90 91.59,100.79" fill="#000" stroke="#000" stroke-width="1"/>
<polygon points="102.52,114.46 105.63,117.57 102.52,120.67 99.42,117.57" fill="#000" stroke="#000" stroke-width="1"/>
<polygon points="118.07,145.87 121.18,148.98 118.07,152.08 114.97,148.98" fill="#000" stroke="#000" stroke-width="1"/>
<polygon points="142.22,142.75 145.32,145.86 142.22,148.96 139.11,145.86" fill="#000" stroke="#000" stroke-width="1"/>
<polygon points="164.93,172.70 168.04,175.81 164.93,178.91 161.83,175.81" fill="#000" stroke="#000" stroke-width="1"/>
<polygon points="259.60,171.66 262.71,174.76 259.60,177.87 256.50,174.76" fill="#000" stroke="#000" stroke-width="1"/>
<polyline points="72.52,30.26 88.51,55.23 101.56,75.34 117.79,92.44 165.59,110.07" fill="none" stroke="#000" stroke-width="1.1" stroke-dasharray="4 2.5"/>
<polygon points="69.55,28.03 75.49,28.03 72.52,33.23" fill="#000" stroke="#000" stroke-width="1"/>
<polygon points="85.54,53.00 91.48,53.00 88.51,58.20" fill="#000" stroke="#000" stroke-width="1"/>
<polygon points="98.59,73.11 104.53,73.11 101.56,78.31" fill="#000" stroke="#000" stroke-width="1"/>
<polygon points="114.82,90.21 120.76,90.21 117.79,95.41" fill="#000" stroke="#000" stroke-width="1"/>
<polygon points="162.62,107.84 168.56,107.84 165.59,113.04" fill="#000" stroke="#000" stroke-width="1"/>
<polyline points="72.35,27.39 87.90,44.61 101.54,64.05 117.22,97.78 141.06,122.60 196.66,146.31 259.51,147.34" fill="none" stroke="#000" stroke-width="1.1" stroke-dasharray="6.6 2.4"/>
<circle cx="72.35" cy="27.39" r="2.65" fill="#fff" stroke="#000" stroke-width="1"/>
<circle cx="87.90" cy="44.61" r="2.65" fill="#fff" stroke="#000" stroke-width="1"/>
<circle cx="101.54" cy="64.05" r="2.65" fill="#fff" stroke="#000" stroke-width="1"/>
<circle cx="117.22" cy="97.78" r="2.65" fill="#fff" stroke="#000" stroke-width="1"/>
<circle cx="141.06" cy="122.60" r="2.65" fill="#fff" stroke="#000" stroke-width="1"/>
<circle cx="196.66" cy="146.31" r="2.65" fill="#fff" stroke="#000" stroke-width="1"/>
<circle cx="259.51" cy="147.34" r="2.65" fill="#fff" stroke="#000" stroke-width="1"/>
<polyline points="72.56,26.27 88.50,53.97 101.99,67.28 117.28,89.98 141.92,113.37 165.19,113.57" fill="none" stroke="#000" stroke-width="1.1" />
<polygon points="69.59,28.49 75.53,28.49 72.56,23.30" fill="#000" stroke="#000" stroke-width="1"/>
<polygon points="85.53,56.19 91.47,56.19 88.50,51.00" fill="#000" stroke="#000" stroke-width="1"/>
<polygon points="99.02,69.50 104.96,69.50 101.99,64.31" fill="#000" stroke="#000" stroke-width="1"/>
<polygon points="114.31,92.21 120.25,92.21 117.28,87.01" fill="#000" stroke="#000" stroke-width="1"/>
<polygon points="138.95,115.60 144.89,115.60 141.92,110.40" fill="#000" stroke="#000" stroke-width="1"/>
<polygon points="162.22,115.80 168.16,115.80 165.19,110.60" fill="#000" stroke="#000" stroke-width="1"/>
<polyline points="72.79,37.47 88.15,71.23 94.28,86.03 102.47,93.50 117.37,124.01 165.14,162.90 259.45,169.68" fill="none" stroke="#000" stroke-width="1.1" />
<rect x="70.36" y="35.04" width="4.86" height="4.86" fill="#000" stroke="#000" stroke-width="1"/>
<rect x="85.72" y="68.80" width="4.86" height="4.86" fill="#000" stroke="#000" stroke-width="1"/>
<rect x="91.85" y="83.60" width="4.86" height="4.86" fill="#000" stroke="#000" stroke-width="1"/>
<rect x="100.04" y="91.07" width="4.86" height="4.86" fill="#000" stroke="#000" stroke-width="1"/>
<rect x="114.94" y="121.58" width="4.86" height="4.86" fill="#000" stroke="#000" stroke-width="1"/>
<rect x="162.71" y="160.47" width="4.86" height="4.86" fill="#000" stroke="#000" stroke-width="1"/>
<rect x="257.02" y="167.25" width="4.86" height="4.86" fill="#000" stroke="#000" stroke-width="1"/>
<polyline points="72.81,39.34 88.11,61.39 102.05,95.29 117.84,119.83 165.32,166.08 259.94,158.60" fill="none" stroke="#000" stroke-width="1.1" />
<circle cx="72.81" cy="39.34" r="2.65" fill="#000" stroke="#000" stroke-width="1"/>
<circle cx="88.11" cy="61.39" r="2.65" fill="#000" stroke="#000" stroke-width="1"/>
<circle cx="102.05" cy="95.29" r="2.65" fill="#000" stroke="#000" stroke-width="1"/>
<circle cx="117.84" cy="119.83" r="2.65" fill="#000" stroke="#000" stroke-width="1"/>
<circle cx="165.32" cy="166.08" r="2.65" fill="#000" stroke="#000" stroke-width="1"/>
<circle cx="259.94" cy="158.60" r="2.65" fill="#000" stroke="#000" stroke-width="1"/>
<polyline points="73.21,29.33 87.81,50.44 94.51,58.05 102.68,72.87 117.26,99.09 165.96,120.88 259.77,134.18" fill="none" stroke="#000" stroke-width="1.1" />
<rect x="70.78" y="26.90" width="4.86" height="4.86" fill="#fff" stroke="#000" stroke-width="1"/>
<rect x="85.38" y="48.01" width="4.86" height="4.86" fill="#fff" stroke="#000" stroke-width="1"/>
<rect x="92.08" y="55.62" width="4.86" height="4.86" fill="#fff" stroke="#000" stroke-width="1"/>
<rect x="100.25" y="70.44" width="4.86" height="4.86" fill="#fff" stroke="#000" stroke-width="1"/>
<rect x="114.83" y="96.66" width="4.86" height="4.86" fill="#fff" stroke="#000" stroke-width="1"/>
<rect x="163.53" y="118.45" width="4.86" height="4.86" fill="#fff" stroke="#000" stroke-width="1"/>
<rect x="257.34" y="131.75" width="4.86" height="4.86" fill="#fff" stroke="#000" stroke-width="1"/>
<polyline points="72.08,36.76 88.52,49.40 101.58,68.65 117.87,109.01 165.19,118.95 260.06,156.90" fill="none" stroke="#000" stroke-width="1.1" stroke-dasharray="6.6 2.4"/>
<polygon points="72.08,33.66 75.18,36.76 72.08,39.87 68.97,36.76" fill="#000" stroke="#000" stroke-width="1"/>
<polygon points="88.52,46.30 91.63,49.40 88.52,52.51 85.42,49.40" fill="#000" stroke="#000" stroke-width="1"/>
<polygon points="101.58,65.55 104.68,68.65 101.58,71.76 98.47,68.65" fill="#000" stroke="#000" stroke-width="1"/>
<polygon points="117.87,105.90 120.97,109.01 117.87,112.11 114.76,109.01" fill="#000" stroke="#000" stroke-width="1"/>
<polygon points="165.19,115.84 168.30,118.95 165.19,122.05 162.09,118.95" fill="#000" stroke="#000" stroke-width="1"/>
<polygon points="260.06,153.79 263.16,156.90 260.06,160.00 256.95,156.90" fill="#000" stroke="#000" stroke-width="1"/>
<polyline points="72.65,44.30 87.81,67.83 101.53,91.02 118.14,126.41 196.33,151.16 259.98,186.48" fill="none" stroke="#000" stroke-width="1.1" stroke-dasharray="6 2 1.5 2"/>
<polygon points="69.68,42.07 75.62,42.07 72.65,47.27" fill="#000" stroke="#000" stroke-width="1"/>
<polygon points="84.84,65.60 90.78,65.60 87.81,70.80" fill="#000" stroke="#000" stroke-width="1"/>
<polygon points="98.56,88.80 104.50,88.80 101.53,93.99" fill="#000" stroke="#000" stroke-width="1"/>
<polygon points="115.17,124.18 121.11,124.18 118.14,129.38" fill="#000" stroke="#000" stroke-width="1"/>
<polygon points="193.36,148.93 199.30,148.93 196.33,154.13" fill="#000" stroke="#000" stroke-width="1"/>
<polygon points="257.01,184.25 262.95,184.25 259.98,189.45" fill="#000" stroke="#000" stroke-width="1"/>
<polyline points="72.24,48.31 88.27,74.63 94.52,75.37 101.50,77.84 117.54,112.28 141.70,134.43 165.66,142.02 259.66,146.59" fill="none" stroke="#000" stroke-width="1.1" stroke-dasharray="1.1 1.8"/>
<polygon points="72.24,45.21 75.34,48.31 72.24,51.42 69.13,48.31" fill="#fff" stroke="#000" stroke-width="1"/>
<polygon points="88.27,71.52 91.37,74.63 88.27,77.73 85.16,74.63" fill="#fff" stroke="#000" stroke-width="1"/>
<polygon points="94.52,72.27 97.63,75.37 94.52,78.48 91.42,75.37" fill="#fff" stroke="#000" stroke-width="1"/>
<polygon points="101.50,74.74 104.60,77.84 101.50,80.95 98.39,77.84" fill="#fff" stroke="#000" stroke-width="1"/>
<polygon points="117.54,109.17 120.65,112.28 117.54,115.38 114.44,112.28" fill="#fff" stroke="#000" stroke-width="1"/>
<polygon points="141.70,131.32 144.80,134.43 141.70,137.53 138.59,134.43" fill="#fff" stroke="#000" stroke-width="1"/>
<polygon points="165.66,138.91 168.77,142.02 165.66,145.12 162.56,142.02" fill="#fff" stroke="#000" stroke-width="1"/>
<polygon points="259.66,143.49 262.76,146.59 259.66,149.70 256.55,146.59" fill="#fff" stroke="#000" stroke-width="1"/>
<polyline points="73.32,57.05 94.76,96.04 101.42,113.20 117.53,141.33 165.60,136.21 260.79,137.36" fill="none" stroke="#000" stroke-width="1.1" stroke-dasharray="4 2.5"/>
<circle cx="73.32" cy="57.05" r="2.65" fill="#000" stroke="#000" stroke-width="1"/>
<circle cx="94.76" cy="96.04" r="2.65" fill="#000" stroke="#000" stroke-width="1"/>
<circle cx="101.42" cy="113.20" r="2.65" fill="#000" stroke="#000" stroke-width="1"/>
<circle cx="117.53" cy="141.33" r="2.65" fill="#000" stroke="#000" stroke-width="1"/>
<circle cx="165.60" cy="136.21" r="2.65" fill="#000" stroke="#000" stroke-width="1"/>
<circle cx="260.79" cy="137.36" r="2.65" fill="#000" stroke="#000" stroke-width="1"/>
<polyline points="72.61,41.13 88.91,67.47 94.23,80.42 102.00,98.11 117.86,114.97 164.99,140.05 196.99,142.43" fill="none" stroke="#000" stroke-width="1.1" stroke-dasharray="1.1 1.8"/>
<polygon points="69.64,38.90 75.58,38.90 72.61,44.10" fill="#fff" stroke="#000" stroke-width="1"/>
<polygon points="85.94,65.24 91.88,65.24 88.91,70.44" fill="#fff" stroke="#000" stroke-width="1"/>
<polygon points="91.26,78.19 97.20,78.19 94.23,83.39" fill="#fff" stroke="#000" stroke-width="1"/>
<polygon points="99.03,95.88 104.97,95.88 102.00,101.08" fill="#fff" stroke="#000" stroke-width="1"/>
<polygon points="114.89,112.74 120.83,112.74 117.86,117.94" fill="#fff" stroke="#000" stroke-width="1"/>
<polygon points="162.02,137.83 167.96,137.83 164.99,143.02" fill="#fff" stroke="#000" stroke-width="1"/>
<polygon points="194.02,140.20 199.96,140.20 196.99,145.40" fill="#fff" stroke="#000" stroke-width="1"/>
<polyline points="72.32,21.27 88.63,40.75 93.74,50.23 102.80,59.41 117.89,87.19 141.10,103.95 165.03,121.84 259.77,163.86" fill="none" stroke="#000" stroke-width="1.1" stroke-dasharray="4 2.5"/>
<circle cx="72.32" cy="21.27" r="2.65" fill="#000" stroke="#000" stroke-width="1"/>
<circle cx="88.63" cy="40.75" r="2.65" fill="#000" stroke="#000" stroke-width="1"/>
<circle cx="93.74" cy="50.23" r="2.65" fill="#000" stroke="#000" stroke-width="1"/>
<circle cx="102.80" cy="59.41" r="2.65" fill="#000" stroke="#000" stroke-width="1"/>
<circle cx="117.89" cy="87.19" r="2.65" fill="#000" stroke="#000" stroke-width="1"/>
<circle cx="141.10" cy="103.95" r="2.65" fill="#000" stroke="#000" stroke-width="1"/>
<circle cx="165.03" cy="121.84" r="2.65" fill="#000" stroke="#000" stroke-width="1"/>
<circle cx="259.77" cy="163.86" r="2.65" fill="#000" stroke="#000" stroke-width="1"/>
<polyline points="73.29,51.66 88.82,54.08 102.12,82.16 118.53,138.70 164.91,139.28 259.65,147.30" fill="none" stroke="#000" stroke-width="1.1" stroke-dasharray="6.6 2.4"/>
<rect x="70.86" y="49.23" width="4.86" height="4.86" fill="#000" stroke="#000" stroke-width="1"/>
<rect x="86.39" y="51.65" width="4.86" height="4.86" fill="#000" stroke="#000" stroke-width="1"/>
<rect x="99.69" y="79.73" width="4.86" height="4.86" fill="#000" stroke="#000" stroke-width="1"/>
<rect x="116.10" y="136.27" width="4.86" height="4.86" fill="#000" stroke="#000" stroke-width="1"/>
<rect x="162.48" y="136.85" width="4.86" height="4.86" fill="#000" stroke="#000" stroke-width="1"/>
<rect x="257.22" y="144.87" width="4.86" height="4.86" fill="#000" stroke="#000" stroke-width="1"/>
<polyline points="72.06,22.05 87.59,47.93 94.47,62.35 118.47,106.38 164.75,131.61 196.66,137.24 260.55,139.27" fill="none" stroke="#000" stroke-width="1.1" />
<polygon points="72.06,18.95 75.16,22.05 72.06,25.16 68.95,22.05" fill="#000" stroke="#000" stroke-width="1"/>
<polygon points="87.59,44.83 90.70,47.93 87.59,51.04 84.49,47.93" fill="#000" stroke="#000" stroke-width="1"/>
<polygon points="94.47,59.25 97.57,62.35 94.47,65.46 91.36,62.35" fill="#000" stroke="#000" stroke-width="1"/>
<polygon points="118.47,103.27 121.57,106.38 118.47,109.48 115.36,106.38" fill="#000" stroke="#000" stroke-width="1"/>
<polygon points="164.75,128.50 167.86,131.61 164.75,134.71 161.65,131.61" fill="#000" stroke="#000" stroke-width="1"/>
<polygon points="196.66,134.13 199.77,137.24 196.66,140.34 193.56,137.24" fill="#000" stroke="#000" stroke-width="1"/>
<polygon points="260.55,136.16 263.66,139.27 260.55,142.37 257.45,139.27" fill="#000" stroke="#000" stroke-width="1"/>
<polyline points="73.36,32.43 88.85,59.67 93.62,69.35 102.36,77.17 118.26,100.38 164.83,117.79" fill="none" stroke="#000" stroke-width="1.1" />
<polygon points="70.39,30.20 76.33,30.20 73.36,35.40" fill="#000" stroke="#000" stroke-width="1"/>
<polygon points="85.88,57.44 91.82,57.44 88.85,62.64" fill="#000" stroke="#000" stroke-width="1"/>
<polygon points="90.65,67.12 96.59,67.12 93.62,72.32" fill="#000" stroke="#000" stroke-width="1"/>
<polygon points="99.39,74.94 105.33,74.94 102.36,80.14" fill="#000" stroke="#000" stroke-width="1"/>
<polygon points="115.29,98.15 121.23,98.15 118.26,103.35" fill="#000" stroke="#000" stroke-width="1"/>
<polygon points="161.86,115.57 167.80,115.57 164.83,120.76" fill="#000" stroke="#000" stroke-width="1"/>
<polyline points="72.80,19.70 88.40,31.60 102.20,52.70 117.70,83.20 141.50,94.40 165.50,97.90 197.00,105.70 263.80,123.50" fill="none" stroke="#000" stroke-width="1.1" stroke-dasharray="4 2.5"/>
<rect x="70.37" y="17.27" width="4.86" height="4.86" fill="#fff" stroke="#000" stroke-width="1"/>
<rect x="85.97" y="29.17" width="4.86" height="4.86" fill="#fff" stroke="#000" stroke-width="1"/>
<rect x="99.77" y="50.27" width="4.86" height="4.86" fill="#fff" stroke="#000" stroke-width="1"/>
<rect x="115.27" y="80.77" width="4.86" height="4.86" fill="#fff" stroke="#000" stroke-width="1"/>
<rect x="139.07" y="91.97" width="4.86" height="4.86" fill="#fff" stroke="#000" stroke-width="1"/>
<rect x="163.07" y="95.47" width="4.86" height="4.86" fill="#fff" stroke="#000" stroke-width="1"/>
<rect x="194.57" y="103.27" width="4.86" height="4.86" fill="#fff" stroke="#000" stroke-width="1"/>
<rect x="261.37" y="121.07" width="4.86" height="4.86" fill="#fff" stroke="#000" stroke-width="1"/>
<polyline points="72.50,27.00 88.30,42.00 102.20,58.00 117.20,76.50 141.50,88.80 165.50,103.10 197.00,118.00 262.00,129.30" fill="none" stroke="#000" stroke-width="1.1" stroke-dasharray="6.6 2.4"/>
<rect x="70.07" y="24.57" width="4.86" height="4.86" fill="#000" stroke="#000" stroke-width="1"/>
<rect x="85.87" y="39.57" width="4.86" height="4.86" fill="#000" stroke="#000" stroke-width="1"/>
<rect x="99.77" y="55.57" width="4.86" height="4.86" fill="#000" stroke="#000" stroke-width="1"/>
<rect x="114.77" y="74.07" width="4.86" height="4.86" fill="#000" stroke="#000" stroke-width="1"/>
<rect x="139.07" y="86.37" width="4.86" height="4.86" fill="#000" stroke="#000" stroke-width="1"/>
<rect x="163.07" y="100.67" width="4.86" height="4.86" fill="#000" stroke="#000" stroke-width="1"/>
<rect x="194.57" y="115.57" width="4.86" height="4.86" fill="#000" stroke="#000" stroke-width="1"/>
<rect x="259.57" y="126.87" width="4.86" height="4.86" fill="#000" stroke="#000" stroke-width="1"/>
<polyline points="72.50,33.00 93.90,29.70 102.20,72.00 117.70,96.00 165.50,120.00 260.00,140.00" fill="none" stroke="#000" stroke-width="1.1" />
<circle cx="72.50" cy="33.00" r="2.65" fill="#fff" stroke="#000" stroke-width="1"/>
<circle cx="93.90" cy="29.70" r="2.65" fill="#fff" stroke="#000" stroke-width="1"/>
<circle cx="102.20" cy="72.00" r="2.65" fill="#fff" stroke="#000" stroke-width="1"/>
<circle cx="117.70" cy="96.00" r="2.65" fill="#fff" stroke="#000" stroke-width="1"/>
<circle cx="165.50" cy="120.00" r="2.65" fill="#fff" stroke="#000" stroke-width="1"/>
<circle cx="260.00" cy="140.00" r="2.65" fill="#fff" stroke="#000" stroke-width="1"/>
<polyline points="72.50,55.00 89.80,87.00 94.30,120.00 100.70,145.00 116.70,152.30 165.50,153.00 261.00,152.00" fill="none" stroke="#000" stroke-width="1.1" stroke-dasharray="1.1 1.8"/>
<polygon points="69.53,52.77 75.47,52.77 72.50,57.97" fill="#fff" stroke="#000" stroke-width="1"/>
<polygon points="86.83,84.77 92.77,84.77 89.80,89.97" fill="#fff" stroke="#000" stroke-width="1"/>
<polygon points="91.33,117.77 97.27,117.77 94.30,122.97" fill="#fff" stroke="#000" stroke-width="1"/>
<polygon points="97.73,142.77 103.67,142.77 100.70,147.97" fill="#fff" stroke="#000" stroke-width="1"/>
<polygon points="113.73,150.07 119.67,150.07 116.70,155.27" fill="#fff" stroke="#000" stroke-width="1"/>
<polygon points="162.53,150.77 168.47,150.77 165.50,155.97" fill="#fff" stroke="#000" stroke-width="1"/>
<polygon points="258.03,149.77 263.97,149.77 261.00,154.97" fill="#fff" stroke="#000" stroke-width="1"/>
<polyline points="72.50,60.00 88.30,77.00 102.20,119.00 117.70,146.00 165.40,201.50 259.20,200.00" fill="none" stroke="#000" stroke-width="1.1" stroke-dasharray="6.6 2.4"/>
<circle cx="72.50" cy="60.00" r="2.65" fill="#fff" stroke="#000" stroke-width="1"/>
<circle cx="88.30" cy="77.00" r="2.65" fill="#fff" stroke="#000" stroke-width="1"/>
<circle cx="102.20" cy="119.00" r="2.65" fill="#fff" stroke="#000" stroke-width="1"/>
<circle cx="117.70" cy="146.00" r="2.65" fill="#fff" stroke="#000" stroke-width="1"/>
<circle cx="165.40" cy="201.50" r="2.65" fill="#fff" stroke="#000" stroke-width="1"/>
<circle cx="259.20" cy="200.00" r="2.65" fill="#fff" stroke="#000" stroke-width="1"/>
<polyline points="72.50,64.00 88.30,92.00 102.20,112.00 117.70,138.00 165.40,186.20 259.20,177.00" fill="none" stroke="#000" stroke-width="1.1" />
<circle cx="72.50" cy="64.00" r="2.65" fill="#000" stroke="#000" stroke-width="1"/>
<circle cx="88.30" cy="92.00" r="2.65" fill="#000" stroke="#000" stroke-width="1"/>
<circle cx="102.20" cy="112.00" r="2.65" fill="#000" stroke="#000" stroke-width="1"/>
<circle cx="117.70" cy="138.00" r="2.65" fill="#000" stroke="#000" stroke-width="1"/>
<circle cx="165.40" cy="186.20" r="2.65" fill="#000" stroke="#000" stroke-width="1"/>
<circle cx="259.20" cy="177.00" r="2.65" fill="#000" stroke="#000" stroke-width="1"/>
<polyline points="72.50,30.00 88.30,46.00 102.20,62.00 117.70,86.00 165.50,92.30 197.00,101.40 260.00,106.20" fill="none" stroke="#000" stroke-width="1.1" stroke-dasharray="1.1 1.8"/>
<circle cx="72.50" cy="30.00" r="2.65" fill="#000" stroke="#000" stroke-width="1"/>
<circle cx="88.30" cy="46.00" r="2.65" fill="#000" stroke="#000" stroke-width="1"/>
<circle cx="102.20" cy="62.00" r="2.65" fill="#000" stroke="#000" stroke-width="1"/>
<circle cx="117.70" cy="86.00" r="2.65" fill="#000" stroke="#000" stroke-width="1"/>
<circle cx="165.50" cy="92.30" r="2.65" fill="#000" stroke="#000" stroke-width="1"/>
<circle cx="197.00" cy="101.40" r="2.65" fill="#000" stroke="#000" stroke-width="1"/>
<circle cx="260.00" cy="106.20" r="2.65" fill="#000" stroke="#000" stroke-width="1"/>
<polyline points="72.50,58.00 88.30,80.00 102.20,100.00 117.70,134.50 165.40,180.00 262.00,193.20" fill="none" stroke="#000" stroke-width="1.1" stroke-dasharray="4 2.5"/>
<polygon points="72.50,54.90 75.61,58.00 72.50,61.10 69.39,58.00" fill="#fff" stroke="#000" stroke-width="1"/>
<polygon points="88.30,76.89 91.41,80.00 88.30,83.11 85.19,80.00" fill="#fff" stroke="#000" stroke-width="1"/>
<polygon points="102.20,96.89 105.31,100.00 102.20,103.11 99.09,100.00" fill="#fff" stroke="#000" stroke-width="1"/>
<polygon points="117.70,131.40 120.81,134.50 117.70,137.60 114.59,134.50" fill="#fff" stroke="#000" stroke-width="1"/>
<polygon points="165.40,176.90 168.50,180.00 165.40,183.10 162.30,180.00" fill="#fff" stroke="#000" stroke-width="1"/>
<polygon points="262.00,190.09 265.11,193.20 262.00,196.30 258.89,193.20" fill="#fff" stroke="#000" stroke-width="1"/>
<polyline points="72.50,62.00 88.30,85.00 102.20,108.00 117.70,140.00 165.40,172.00 261.00,196.00" fill="none" stroke="#000" stroke-width="1.1" stroke-dasharray="6.6 2.4"/>
<polygon points="72.50,58.90 75.61,62.00 72.50,65.11 69.39,62.00" fill="#fff" stroke="#000" stroke-width="1"/>
<polygon points="88.30,81.89 91.41,85.00 88.30,88.11 85.19,85.00" fill="#fff" stroke="#000" stroke-width="1"/>
<polygon points="102.20,104.89 105.31,108.00 102.20,111.11 99.09,108.00" fill="#fff" stroke="#000" stroke-width="1"/>
<polygon points="117.70,136.90 120.81,140.00 117.70,143.10 114.59,140.00" fill="#fff" stroke="#000" stroke-width="1"/>
<polygon points="165.40,168.90 168.50,172.00 165.40,175.10 162.30,172.00" fill="#fff" stroke="#000" stroke-width="1"/>
<polygon points="261.00,192.90 264.11,196.00 261.00,199.10 257.89,196.00" fill="#fff" stroke="#000" stroke-width="1"/>
<polyline points="72.50,50.00 88.30,70.00 102.20,95.00 117.70,125.00 165.40,165.00 197.00,162.00 261.00,186.00" fill="none" stroke="#000" stroke-width="1.1" stroke-dasharray="4 2.5"/>
<polygon points="69.53,47.77 75.47,47.77 72.50,52.97" fill="#000" stroke="#000" stroke-width="1"/>
<polygon points="85.33,67.77 91.27,67.77 88.30,72.97" fill="#000" stroke="#000" stroke-width="1"/>
<polygon points="99.23,92.77 105.17,92.77 102.20,97.97" fill="#000" stroke="#000" stroke-width="1"/>
<polygon points="114.73,122.77 120.67,122.77 117.70,127.97" fill="#000" stroke="#000" stroke-width="1"/>
<polygon points="162.43,162.77 168.37,162.77 165.40,167.97" fill="#000" stroke="#000" stroke-width="1"/>
<polygon points="194.03,159.77 199.97,159.77 197.00,164.97" fill="#000" stroke="#000" stroke-width="1"/>
<polygon points="258.03,183.77 263.97,183.77 261.00,188.97" fill="#000" stroke="#000" stroke-width="1"/>
<polyline points="301.32,28.51 316.30,41.80 346.49,113.48 393.43,147.67 488.63,173.33" fill="none" stroke="#000" stroke-width="1.1" />
<circle cx="301.32" cy="28.51" r="2.65" fill="#fff" stroke="#000" stroke-width="1"/>
<circle cx="316.30" cy="41.80" r="2.65" fill="#fff" stroke="#000" stroke-width="1"/>
<circle cx="346.49" cy="113.48" r="2.65" fill="#fff" stroke="#000" stroke-width="1"/>
<circle cx="393.43" cy="147.67" r="2.65" fill="#fff" stroke="#000" stroke-width="1"/>
<circle cx="488.63" cy="173.33" r="2.65" fill="#fff" stroke="#000" stroke-width="1"/>
<polyline points="300.81,30.94 316.87,41.24 331.09,62.99 346.03,94.60 393.48,109.60 488.76,161.12" fill="none" stroke="#000" stroke-width="1.1" stroke-dasharray="4 2.5"/>
<rect x="298.38" y="28.51" width="4.86" height="4.86" fill="#000" stroke="#000" stroke-width="1"/>
<rect x="314.44" y="38.81" width="4.86" height="4.86" fill="#000" stroke="#000" stroke-width="1"/>
<rect x="328.66" y="60.56" width="4.86" height="4.86" fill="#000" stroke="#000" stroke-width="1"/>
<rect x="343.60" y="92.17" width="4.86" height="4.86" fill="#000" stroke="#000" stroke-width="1"/>
<rect x="391.05" y="107.17" width="4.86" height="4.86" fill="#000" stroke="#000" stroke-width="1"/>
<rect x="486.33" y="158.69" width="4.86" height="4.86" fill="#000" stroke="#000" stroke-width="1"/>
<polyline points="300.87,49.96 317.25,52.96 323.36,53.96 345.88,102.05 394.44,113.17 488.76,149.15" fill="none" stroke="#000" stroke-width="1.1" stroke-dasharray="6.6 2.4"/>
<polygon points="297.90,52.19 303.84,52.19 300.87,46.99" fill="#fff" stroke="#000" stroke-width="1"/>
<polygon points="314.28,55.18 320.22,55.18 317.25,49.99" fill="#fff" stroke="#000" stroke-width="1"/>
<polygon points="320.39,56.19 326.33,56.19 323.36,50.99" fill="#fff" stroke="#000" stroke-width="1"/>
<polygon points="342.91,104.28 348.85,104.28 345.88,99.08" fill="#fff" stroke="#000" stroke-width="1"/>
<polygon points="391.47,115.40 397.41,115.40 394.44,110.20" fill="#fff" stroke="#000" stroke-width="1"/>
<polygon points="485.79,151.37 491.73,151.37 488.76,146.18" fill="#fff" stroke="#000" stroke-width="1"/>
<polyline points="300.61,25.30 316.86,33.57 347.13,86.63 393.34,109.02 488.71,115.18" fill="none" stroke="#000" stroke-width="1.1" stroke-dasharray="6.6 2.4"/>
<circle cx="300.61" cy="25.30" r="2.65" fill="#000" stroke="#000" stroke-width="1"/>
<circle cx="316.86" cy="33.57" r="2.65" fill="#000" stroke="#000" stroke-width="1"/>
<circle cx="347.13" cy="86.63" r="2.65" fill="#000" stroke="#000" stroke-width="1"/>
<circle cx="393.34" cy="109.02" r="2.65" fill="#000" stroke="#000" stroke-width="1"/>
<circle cx="488.71" cy="115.18" r="2.65" fill="#000" stroke="#000" stroke-width="1"/>
<polyline points="301.48,38.55 317.27,43.03 330.85,70.44 346.65,91.62 393.56,143.96 489.28,172.68" fill="none" stroke="#000" stroke-width="1.1" stroke-dasharray="6 2 1.5 2"/>
<polygon points="301.48,35.45 304.58,38.55 301.48,41.66 298.37,38.55" fill="#fff" stroke="#000" stroke-width="1"/>
<polygon points="317.27,39.93 320.37,43.03 317.27,46.14 314.16,43.03" fill="#fff" stroke="#000" stroke-width="1"/>
<polygon points="330.85,67.34 333.96,70.44 330.85,73.55 327.75,70.44" fill="#fff" stroke="#000" stroke-width="1"/>
<polygon points="346.65,88.51 349.76,91.62 346.65,94.72 343.55,91.62" fill="#fff" stroke="#000" stroke-width="1"/>
<polygon points="393.56,140.85 396.66,143.96 393.56,147.06 390.45,143.96" fill="#fff" stroke="#000" stroke-width="1"/>
<polygon points="489.28,169.57 492.38,172.68 489.28,175.78 486.17,172.68" fill="#fff" stroke="#000" stroke-width="1"/>
<polyline points="300.47,26.08 316.85,35.83 331.38,66.90 347.09,90.14 393.86,123.82 488.31,176.79" fill="none" stroke="#000" stroke-width="1.1" />
<polygon points="297.50,23.85 303.44,23.85 300.47,29.05" fill="#000" stroke="#000" stroke-width="1"/>
<polygon points="313.88,33.60 319.82,33.60 316.85,38.80" fill="#000" stroke="#000" stroke-width="1"/>
<polygon points="328.41,64.67 334.35,64.67 331.38,69.87" fill="#000" stroke="#000" stroke-width="1"/>
<polygon points="344.12,87.91 350.06,87.91 347.09,93.11" fill="#000" stroke="#000" stroke-width="1"/>
<polygon points="390.89,121.60 396.83,121.60 393.86,126.79" fill="#000" stroke="#000" stroke-width="1"/>
<polygon points="485.34,174.56 491.28,174.56 488.31,179.76" fill="#000" stroke="#000" stroke-width="1"/>
<polyline points="301.42,53.06 316.53,60.47 346.85,141.36 393.61,171.62 488.44,176.56" fill="none" stroke="#000" stroke-width="1.1" stroke-dasharray="1.1 1.8"/>
<rect x="298.99" y="50.63" width="4.86" height="4.86" fill="#fff" stroke="#000" stroke-width="1"/>
<rect x="314.10" y="58.04" width="4.86" height="4.86" fill="#fff" stroke="#000" stroke-width="1"/>
<rect x="344.42" y="138.93" width="4.86" height="4.86" fill="#fff" stroke="#000" stroke-width="1"/>
<rect x="391.18" y="169.19" width="4.86" height="4.86" fill="#fff" stroke="#000" stroke-width="1"/>
<rect x="486.01" y="174.13" width="4.86" height="4.86" fill="#fff" stroke="#000" stroke-width="1"/>
<polyline points="301.43,45.76 317.08,57.86 322.67,59.88 330.42,83.26 347.07,128.24 394.16,162.36 488.80,166.25" fill="none" stroke="#000" stroke-width="1.1" />
<polygon points="301.43,42.65 304.54,45.76 301.43,48.86 298.33,45.76" fill="#000" stroke="#000" stroke-width="1"/>
<polygon points="317.08,54.76 320.19,57.86 317.08,60.97 313.98,57.86" fill="#000" stroke="#000" stroke-width="1"/>
<polygon points="322.67,56.77 325.78,59.88 322.67,62.98 319.57,59.88" fill="#000" stroke="#000" stroke-width="1"/>
<polygon points="330.42,80.15 333.52,83.26 330.42,86.36 327.31,83.26" fill="#000" stroke="#000" stroke-width="1"/>
<polygon points="347.07,125.13 350.18,128.24 347.07,131.34 343.97,128.24" fill="#000" stroke="#000" stroke-width="1"/>
<polygon points="394.16,159.26 397.27,162.36 394.16,165.47 391.06,162.36" fill="#000" stroke="#000" stroke-width="1"/>
<polygon points="488.80,163.14 491.90,166.25 488.80,169.35 485.69,166.25" fill="#000" stroke="#000" stroke-width="1"/>
<polyline points="301.58,57.32 316.82,62.75 322.58,73.80 330.64,95.88 346.67,132.83 393.53,151.03 488.44,182.29" fill="none" stroke="#000" stroke-width="1.1" stroke-dasharray="4 2.5"/>
<circle cx="301.58" cy="57.32" r="2.65" fill="#fff" stroke="#000" stroke-width="1"/>
<circle cx="316.82" cy="62.75" r="2.65" fill="#fff" stroke="#000" stroke-width="1"/>
<circle cx="322.58" cy="73.80" r="2.65" fill="#fff" stroke="#000" stroke-width="1"/>
<circle cx="330.64" cy="95.88" r="2.65" fill="#fff" stroke="#000" stroke-width="1"/>
<circle cx="346.67" cy="132.83" r="2.65" fill="#fff" stroke="#000" stroke-width="1"/>
<circle cx="393.53" cy="151.03" r="2.65" fill="#fff" stroke="#000" stroke-width="1"/>
<circle cx="488.44" cy="182.29" r="2.65" fill="#fff" stroke="#000" stroke-width="1"/>
<polyline points="301.05,33.73 317.10,48.58 322.23,70.67 330.05,93.15 345.99,108.91 393.85,132.75 488.44,143.98" fill="none" stroke="#000" stroke-width="1.1" />
<polygon points="298.08,35.96 304.02,35.96 301.05,30.76" fill="#000" stroke="#000" stroke-width="1"/>
<polygon points="314.13,50.81 320.07,50.81 317.10,45.61" fill="#000" stroke="#000" stroke-width="1"/>
<polygon points="319.26,72.90 325.20,72.90 322.23,67.70" fill="#000" stroke="#000" stroke-width="1"/>
<polygon points="327.08,95.37 333.02,95.37 330.05,90.18" fill="#000" stroke="#000" stroke-width="1"/>
<polygon points="343.02,111.14 348.96,111.14 345.99,105.94" fill="#000" stroke="#000" stroke-width="1"/>
<polygon points="390.88,134.98 396.82,134.98 393.85,129.78" fill="#000" stroke="#000" stroke-width="1"/>
<polygon points="485.47,146.20 491.41,146.20 488.44,141.01" fill="#000" stroke="#000" stroke-width="1"/>
<polyline points="301.69,49.81 316.19,58.67 345.99,146.34 394.22,177.19 488.07,190.65" fill="none" stroke="#000" stroke-width="1.1" stroke-dasharray="1.1 1.8"/>
<polygon points="298.72,47.59 304.66,47.59 301.69,52.78" fill="#fff" stroke="#000" stroke-width="1"/>
<polygon points="313.22,56.44 319.16,56.44 316.19,61.64" fill="#fff" stroke="#000" stroke-width="1"/>
<polygon points="343.02,144.11 348.96,144.11 345.99,149.31" fill="#fff" stroke="#000" stroke-width="1"/>
<polygon points="391.25,174.96 397.19,174.96 394.22,180.16" fill="#fff" stroke="#000" stroke-width="1"/>
<polygon points="485.10,188.42 491.04,188.42 488.07,193.62" fill="#fff" stroke="#000" stroke-width="1"/>
<polyline points="301.56,39.32 316.57,51.95 322.67,56.13 330.65,86.34 346.68,122.73 393.72,138.26 488.30,159.83" fill="none" stroke="#000" stroke-width="1.1" />
<rect x="299.13" y="36.89" width="4.86" height="4.86" fill="#000" stroke="#000" stroke-width="1"/>
<rect x="314.14" y="49.52" width="4.86" height="4.86" fill="#000" stroke="#000" stroke-width="1"/>
<rect x="320.24" y="53.70" width="4.86" height="4.86" fill="#000" stroke="#000" stroke-width="1"/>
<rect x="328.22" y="83.91" width="4.86" height="4.86" fill="#000" stroke="#000" stroke-width="1"/>
<rect x="344.25" y="120.30" width="4.86" height="4.86" fill="#000" stroke="#000" stroke-width="1"/>
<rect x="391.29" y="135.83" width="4.86" height="4.86" fill="#000" stroke="#000" stroke-width="1"/>
<rect x="485.87" y="157.40" width="4.86" height="4.86" fill="#000" stroke="#000" stroke-width="1"/>
<polyline points="301.05,33.81 316.74,35.94 330.90,73.67 346.24,109.80 394.26,120.36 488.74,129.66" fill="none" stroke="#000" stroke-width="1.1" stroke-dasharray="4 2.5"/>
<circle cx="301.05" cy="33.81" r="2.65" fill="#000" stroke="#000" stroke-width="1"/>
<circle cx="316.74" cy="35.94" r="2.65" fill="#000" stroke="#000" stroke-width="1"/>
<circle cx="330.90" cy="73.67" r="2.65" fill="#000" stroke="#000" stroke-width="1"/>
<circle cx="346.24" cy="109.80" r="2.65" fill="#000" stroke="#000" stroke-width="1"/>
<circle cx="394.26" cy="120.36" r="2.65" fill="#000" stroke="#000" stroke-width="1"/>
<circle cx="488.74" cy="129.66" r="2.65" fill="#000" stroke="#000" stroke-width="1"/>
<polyline points="301.71,44.04 316.70,36.94 331.06,77.60 346.32,117.66 393.86,165.38 489.08,178.38" fill="none" stroke="#000" stroke-width="1.1" stroke-dasharray="6.6 2.4"/>
<polygon points="301.71,40.94 304.82,44.04 301.71,47.15 298.61,44.04" fill="#000" stroke="#000" stroke-width="1"/>
<polygon points="316.70,33.83 319.81,36.94 316.70,40.04 313.60,36.94" fill="#000" stroke="#000" stroke-width="1"/>
<polygon points="331.06,74.50 334.17,77.60 331.06,80.71 327.96,77.60" fill="#000" stroke="#000" stroke-width="1"/>
<polygon points="346.32,114.56 349.43,117.66 346.32,120.77 343.22,117.66" fill="#000" stroke="#000" stroke-width="1"/>
<polygon points="393.86,162.27 396.97,165.38 393.86,168.48 390.76,165.38" fill="#000" stroke="#000" stroke-width="1"/>
<polygon points="489.08,175.28 492.19,178.38 489.08,181.49 485.98,178.38" fill="#000" stroke="#000" stroke-width="1"/>
<polyline points="301.22,27.98 317.52,40.89 322.15,46.33 330.38,58.66 345.99,89.21 393.42,134.94 488.11,181.89" fill="none" stroke="#000" stroke-width="1.1" stroke-dasharray="6.6 2.4"/>
<circle cx="301.22" cy="27.98" r="2.65" fill="#fff" stroke="#000" stroke-width="1"/>
<circle cx="317.52" cy="40.89" r="2.65" fill="#fff" stroke="#000" stroke-width="1"/>
<circle cx="322.15" cy="46.33" r="2.65" fill="#fff" stroke="#000" stroke-width="1"/>
<circle cx="330.38" cy="58.66" r="2.65" fill="#fff" stroke="#000" stroke-width="1"/>
<circle cx="345.99" cy="89.21" r="2.65" fill="#fff" stroke="#000" stroke-width="1"/>
<circle cx="393.42" cy="134.94" r="2.65" fill="#fff" stroke="#000" stroke-width="1"/>
<circle cx="488.11" cy="181.89" r="2.65" fill="#fff" stroke="#000" stroke-width="1"/>
<polyline points="300.41,38.57 316.68,50.45 322.93,52.59 331.04,76.56 346.78,118.19 393.24,154.52 488.81,186.12" fill="none" stroke="#000" stroke-width="1.1" stroke-dasharray="6 2 1.5 2"/>
<rect x="297.98" y="36.14" width="4.86" height="4.86" fill="#000" stroke="#000" stroke-width="1"/>
<rect x="314.25" y="48.02" width="4.86" height="4.86" fill="#000" stroke="#000" stroke-width="1"/>
<rect x="320.50" y="50.16" width="4.86" height="4.86" fill="#000" stroke="#000" stroke-width="1"/>
<rect x="328.61" y="74.13" width="4.86" height="4.86" fill="#000" stroke="#000" stroke-width="1"/>
<rect x="344.35" y="115.76" width="4.86" height="4.86" fill="#000" stroke="#000" stroke-width="1"/>
<rect x="390.81" y="152.09" width="4.86" height="4.86" fill="#000" stroke="#000" stroke-width="1"/>
<rect x="486.38" y="183.69" width="4.86" height="4.86" fill="#000" stroke="#000" stroke-width="1"/>
<polyline points="301.46,52.41 317.08,65.09 323.44,77.24 331.24,101.62 346.57,136.62 393.37,169.42 488.88,168.77" fill="none" stroke="#000" stroke-width="1.1" />
<polygon points="298.49,54.63 304.43,54.63 301.46,49.44" fill="#fff" stroke="#000" stroke-width="1"/>
<polygon points="314.11,67.32 320.05,67.32 317.08,62.12" fill="#fff" stroke="#000" stroke-width="1"/>
<polygon points="320.47,79.47 326.41,79.47 323.44,74.27" fill="#fff" stroke="#000" stroke-width="1"/>
<polygon points="328.27,103.85 334.21,103.85 331.24,98.65" fill="#fff" stroke="#000" stroke-width="1"/>
<polygon points="343.60,138.85 349.54,138.85 346.57,133.65" fill="#fff" stroke="#000" stroke-width="1"/>
<polygon points="390.40,171.65 396.34,171.65 393.37,166.45" fill="#fff" stroke="#000" stroke-width="1"/>
<polygon points="485.91,171.00 491.85,171.00 488.88,165.80" fill="#fff" stroke="#000" stroke-width="1"/>
<polyline points="301.18,41.27 316.59,55.24 322.15,66.62 330.75,80.65 346.84,105.78 394.43,141.80 489.36,109.01" fill="none" stroke="#000" stroke-width="1.1" stroke-dasharray="1.1 1.8"/>
<circle cx="301.18" cy="41.27" r="2.65" fill="#000" stroke="#000" stroke-width="1"/>
<circle cx="316.59" cy="55.24" r="2.65" fill="#000" stroke="#000" stroke-width="1"/>
<circle cx="322.15" cy="66.62" r="2.65" fill="#000" stroke="#000" stroke-width="1"/>
<circle cx="330.75" cy="80.65" r="2.65" fill="#000" stroke="#000" stroke-width="1"/>
<circle cx="346.84" cy="105.78" r="2.65" fill="#000" stroke="#000" stroke-width="1"/>
<circle cx="394.43" cy="141.80" r="2.65" fill="#000" stroke="#000" stroke-width="1"/>
<circle cx="489.36" cy="109.01" r="2.65" fill="#000" stroke="#000" stroke-width="1"/>
<polyline points="300.45,36.33 316.68,46.25 322.63,49.65 330.37,64.05 345.86,98.08 393.72,158.70 488.12,183.90" fill="none" stroke="#000" stroke-width="1.1" />
<polygon points="300.45,33.22 303.56,36.33 300.45,39.43 297.35,36.33" fill="#fff" stroke="#000" stroke-width="1"/>
<polygon points="316.68,43.14 319.79,46.25 316.68,49.35 313.58,46.25" fill="#fff" stroke="#000" stroke-width="1"/>
<polygon points="322.63,46.54 325.74,49.65 322.63,52.75 319.53,49.65" fill="#fff" stroke="#000" stroke-width="1"/>
<polygon points="330.37,60.94 333.48,64.05 330.37,67.15 327.27,64.05" fill="#fff" stroke="#000" stroke-width="1"/>
<polygon points="345.86,94.98 348.97,98.08 345.86,101.19 342.76,98.08" fill="#fff" stroke="#000" stroke-width="1"/>
<polygon points="393.72,155.60 396.82,158.70 393.72,161.81 390.61,158.70" fill="#fff" stroke="#000" stroke-width="1"/>
<polygon points="488.12,180.80 491.22,183.90 488.12,187.01 485.01,183.90" fill="#fff" stroke="#000" stroke-width="1"/>
<polyline points="301.70,57.42 316.66,66.94 322.69,81.29 330.02,104.26 346.32,149.30 393.48,181.21 488.09,187.38" fill="none" stroke="#000" stroke-width="1.1" stroke-dasharray="4 2.5"/>
<polygon points="298.73,55.19 304.67,55.19 301.70,60.39" fill="#000" stroke="#000" stroke-width="1"/>
<polygon points="313.69,64.71 319.63,64.71 316.66,69.91" fill="#000" stroke="#000" stroke-width="1"/>
<polygon points="319.72,79.06 325.66,79.06 322.69,84.26" fill="#000" stroke="#000" stroke-width="1"/>
<polygon points="327.05,102.03 332.99,102.03 330.02,107.23" fill="#000" stroke="#000" stroke-width="1"/>
<polygon points="343.35,147.07 349.29,147.07 346.32,152.27" fill="#000" stroke="#000" stroke-width="1"/>
<polygon points="390.51,178.98 396.45,178.98 393.48,184.18" fill="#000" stroke="#000" stroke-width="1"/>
<polygon points="485.12,185.15 491.06,185.15 488.09,190.35" fill="#000" stroke="#000" stroke-width="1"/>
<polyline points="300.44,41.86 317.26,47.43 323.26,62.51 331.04,88.71 346.33,99.40 394.07,130.96 488.84,155.45" fill="none" stroke="#000" stroke-width="1.1" />
<rect x="298.01" y="39.43" width="4.86" height="4.86" fill="#fff" stroke="#000" stroke-width="1"/>
<rect x="314.83" y="45.00" width="4.86" height="4.86" fill="#fff" stroke="#000" stroke-width="1"/>
<rect x="320.83" y="60.08" width="4.86" height="4.86" fill="#fff" stroke="#000" stroke-width="1"/>
<rect x="328.61" y="86.28" width="4.86" height="4.86" fill="#fff" stroke="#000" stroke-width="1"/>
<rect x="343.90" y="96.97" width="4.86" height="4.86" fill="#fff" stroke="#000" stroke-width="1"/>
<rect x="391.64" y="128.53" width="4.86" height="4.86" fill="#fff" stroke="#000" stroke-width="1"/>
<rect x="486.41" y="153.02" width="4.86" height="4.86" fill="#fff" stroke="#000" stroke-width="1"/>
<polyline points="301.50,33.00 317.30,22.70 320.50,40.00 331.00,60.00 346.00,93.00 393.80,110.20 488.00,112.30" fill="none" stroke="#000" stroke-width="1.1" />
<polygon points="301.50,29.89 304.61,33.00 301.50,36.10 298.39,33.00" fill="#fff" stroke="#000" stroke-width="1"/>
<polygon points="317.30,19.59 320.41,22.70 317.30,25.80 314.19,22.70" fill="#fff" stroke="#000" stroke-width="1"/>
<polygon points="320.50,36.90 323.61,40.00 320.50,43.10 317.39,40.00" fill="#fff" stroke="#000" stroke-width="1"/>
<polygon points="331.00,56.90 334.11,60.00 331.00,63.10 327.89,60.00" fill="#fff" stroke="#000" stroke-width="1"/>
<polygon points="346.00,89.89 349.11,93.00 346.00,96.11 342.89,93.00" fill="#fff" stroke="#000" stroke-width="1"/>
<polygon points="393.80,107.09 396.91,110.20 393.80,113.31 390.69,110.20" fill="#fff" stroke="#000" stroke-width="1"/>
<polygon points="488.00,109.19 491.11,112.30 488.00,115.41 484.89,112.30" fill="#fff" stroke="#000" stroke-width="1"/>
<polyline points="301.50,36.00 317.00,48.00 331.00,78.00 346.00,104.00 393.80,89.20" fill="none" stroke="#000" stroke-width="1.1" stroke-dasharray="4 2.5"/>
<polygon points="298.53,33.77 304.47,33.77 301.50,38.97" fill="#000" stroke="#000" stroke-width="1"/>
<polygon points="314.03,45.77 319.97,45.77 317.00,50.97" fill="#000" stroke="#000" stroke-width="1"/>
<polygon points="328.03,75.77 333.97,75.77 331.00,80.97" fill="#000" stroke="#000" stroke-width="1"/>
<polygon points="343.03,101.77 348.97,101.77 346.00,106.97" fill="#000" stroke="#000" stroke-width="1"/>
<polygon points="390.83,86.97 396.77,86.97 393.80,92.17" fill="#000" stroke="#000" stroke-width="1"/>
<polyline points="301.50,50.00 317.00,62.00 331.00,90.00 346.00,154.00 393.80,190.00 488.00,182.00" fill="none" stroke="#000" stroke-width="1.1" />
<polygon points="298.53,47.77 304.47,47.77 301.50,52.97" fill="#000" stroke="#000" stroke-width="1"/>
<polygon points="314.03,59.77 319.97,59.77 317.00,64.97" fill="#000" stroke="#000" stroke-width="1"/>
<polygon points="328.03,87.77 333.97,87.77 331.00,92.97" fill="#000" stroke="#000" stroke-width="1"/>
<polygon points="343.03,151.77 348.97,151.77 346.00,156.97" fill="#000" stroke="#000" stroke-width="1"/>
<polygon points="390.83,187.77 396.77,187.77 393.80,192.97" fill="#000" stroke="#000" stroke-width="1"/>
<polygon points="485.03,179.77 490.97,179.77 488.00,184.97" fill="#000" stroke="#000" stroke-width="1"/>
<polyline points="301.50,45.00 317.00,58.00 331.00,85.00 346.00,128.00 393.80,157.00 498.70,157.70" fill="none" stroke="#000" stroke-width="1.1" />
<circle cx="301.50" cy="45.00" r="2.65" fill="#000" stroke="#000" stroke-width="1"/>
<circle cx="317.00" cy="58.00" r="2.65" fill="#000" stroke="#000" stroke-width="1"/>
<circle cx="331.00" cy="85.00" r="2.65" fill="#000" stroke="#000" stroke-width="1"/>
<circle cx="346.00" cy="128.00" r="2.65" fill="#000" stroke="#000" stroke-width="1"/>
<circle cx="393.80" cy="157.00" r="2.65" fill="#000" stroke="#000" stroke-width="1"/>
<circle cx="498.70" cy="157.70" r="2.65" fill="#000" stroke="#000" stroke-width="1"/>
<polyline points="301.50,40.00 322.80,95.10 330.60,119.30 346.00,147.40 393.80,150.60 488.00,165.50" fill="none" stroke="#000" stroke-width="1.1" stroke-dasharray="1.1 1.8"/>
<rect x="299.07" y="37.57" width="4.86" height="4.86" fill="#fff" stroke="#000" stroke-width="1"/>
<rect x="320.37" y="92.67" width="4.86" height="4.86" fill="#fff" stroke="#000" stroke-width="1"/>
<rect x="328.17" y="116.87" width="4.86" height="4.86" fill="#fff" stroke="#000" stroke-width="1"/>
<rect x="343.57" y="144.97" width="4.86" height="4.86" fill="#fff" stroke="#000" stroke-width="1"/>
<rect x="391.37" y="148.17" width="4.86" height="4.86" fill="#fff" stroke="#000" stroke-width="1"/>
<rect x="485.57" y="163.07" width="4.86" height="4.86" fill="#fff" stroke="#000" stroke-width="1"/>
<polyline points="301.50,52.00 317.00,64.00 331.00,92.00 346.00,140.00 393.80,180.00 488.00,161.30" fill="none" stroke="#000" stroke-width="1.1" />
<polygon points="298.53,49.77 304.47,49.77 301.50,54.97" fill="#000" stroke="#000" stroke-width="1"/>
<polygon points="314.03,61.77 319.97,61.77 317.00,66.97" fill="#000" stroke="#000" stroke-width="1"/>
<polygon points="328.03,89.77 333.97,89.77 331.00,94.97" fill="#000" stroke="#000" stroke-width="1"/>
<polygon points="343.03,137.77 348.97,137.77 346.00,142.97" fill="#000" stroke="#000" stroke-width="1"/>
<polygon points="390.83,177.77 396.77,177.77 393.80,182.97" fill="#000" stroke="#000" stroke-width="1"/>
<polygon points="485.03,159.07 490.97,159.07 488.00,164.27" fill="#000" stroke="#000" stroke-width="1"/>
<polyline points="301.50,30.00 317.00,40.00 331.00,70.00 346.00,118.00 393.80,158.00 488.00,189.00" fill="none" stroke="#000" stroke-width="1.1" />
<rect x="299.07" y="27.57" width="4.86" height="4.86" fill="#000" stroke="#000" stroke-width="1"/>
<rect x="314.57" y="37.57" width="4.86" height="4.86" fill="#000" stroke="#000" stroke-width="1"/>
<rect x="328.57" y="67.57" width="4.86" height="4.86" fill="#000" stroke="#000" stroke-width="1"/>
<rect x="343.57" y="115.57" width="4.86" height="4.86" fill="#000" stroke="#000" stroke-width="1"/>
<rect x="391.37" y="155.57" width="4.86" height="4.86" fill="#000" stroke="#000" stroke-width="1"/>
<rect x="485.57" y="186.57" width="4.86" height="4.86" fill="#000" stroke="#000" stroke-width="1"/>
</svg></body></html>
